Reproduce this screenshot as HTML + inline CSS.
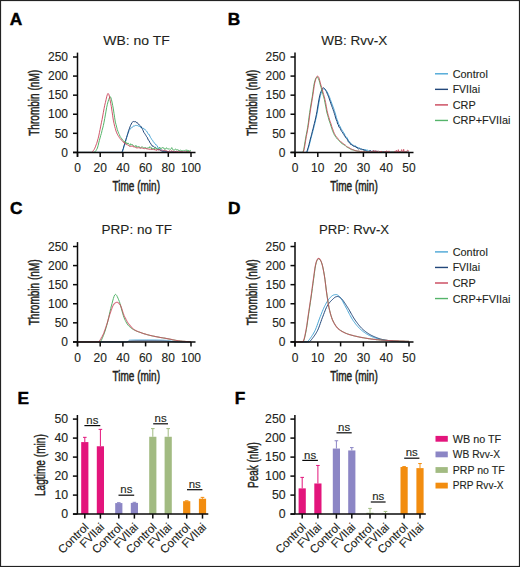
<!DOCTYPE html>
<html><head><meta charset="utf-8"><style>
html,body{margin:0;padding:0;background:#fff;width:520px;height:567px;overflow:hidden}
svg{display:block}
</style></head><body>
<svg width="520" height="567" viewBox="0 0 520 567" font-family='"Liberation Sans", sans-serif'>
<rect x="0" y="0" width="520" height="567" fill="#fff"/>
<text x="9.70" y="24.50" font-size="17.3" text-anchor="start" font-weight="bold" fill="#000" stroke="#000" stroke-width="0.45">A</text>
<text x="136.50" y="44.80" font-size="13.5" text-anchor="middle" font-weight="normal" fill="#231f20" stroke="#231f20" stroke-width="0.12" textLength="66.5" lengthAdjust="spacingAndGlyphs" >WB: no TF</text>
<path d="M77.50,152.40 L78.16,152.40 L78.83,152.40 L79.49,152.40 L80.15,152.40 L80.82,152.40 L81.48,152.40 L82.15,152.40 L82.81,152.40 L83.47,152.40 L84.14,152.40 L84.80,152.40 L85.46,152.40 L86.13,152.40 L86.79,152.40 L87.46,152.40 L88.12,152.40 L88.78,152.40 L89.45,152.40 L90.11,152.40 L90.77,152.40 L91.44,152.40 L92.10,152.40 L92.77,152.40 L93.43,152.40 L94.09,152.40 L94.76,152.40 L95.42,152.40 L96.08,152.40 L96.75,152.40 L97.41,152.40 L98.08,152.40 L98.74,152.40 L99.40,152.40 L100.07,152.40 L100.73,152.40 L101.39,152.40 L102.06,152.40 L102.72,152.40 L103.39,152.40 L104.05,152.40 L104.71,152.40 L105.38,152.40 L106.04,152.40 L106.70,152.40 L107.37,152.40 L108.03,152.40 L108.70,152.40 L109.36,152.40 L110.02,152.40 L110.69,152.40 L111.35,152.40 L112.01,152.40 L112.68,152.40 L113.34,152.40 L114.01,152.40 L114.67,152.40 L115.33,152.40 L116.00,152.40 L116.66,152.40 L117.32,152.40 L117.99,152.40 L118.65,152.40 L119.32,152.40 L119.98,152.40 L120.64,152.40 L121.31,152.40 L121.97,152.40 L122.63,151.58 L123.30,149.17 L123.96,146.74 L124.63,144.90 L125.29,142.72 L125.95,139.99 L126.62,137.66 L127.28,134.94 L127.94,133.08 L128.61,131.80 L129.27,130.27 L129.94,129.46 L130.60,128.33 L131.26,127.84 L131.93,127.80 L132.59,127.15 L133.25,126.09 L133.92,125.83 L134.58,125.93 L135.25,125.53 L135.91,125.37 L136.57,125.44 L137.24,125.45 L137.90,125.81 L138.56,126.10 L139.23,126.35 L139.89,126.20 L140.56,127.50 L141.22,127.17 L141.88,127.45 L142.55,128.26 L143.21,128.14 L143.87,128.92 L144.54,129.02 L145.20,129.96 L145.87,130.43 L146.53,131.04 L147.19,132.12 L147.86,133.38 L148.52,134.46 L149.18,134.43 L149.85,136.10 L150.51,137.45 L151.18,138.38 L151.84,139.61 L152.50,140.29 L153.17,141.43 L153.83,142.26 L154.49,143.27 L155.16,143.69 L155.82,144.92 L156.49,145.17 L157.15,145.66 L157.81,147.31 L158.48,148.24 L159.14,147.91 L159.80,147.92 L160.47,149.56 L161.13,150.11 L161.80,149.91 L162.46,150.64 L163.12,150.81 L163.79,151.02 L164.45,150.97 L165.11,151.45 L165.78,151.39 L166.44,151.64 L167.11,151.91 L167.77,151.79 L168.43,152.03 L169.10,151.77 L169.76,152.15 L170.42,152.18 L171.09,151.43 L171.75,151.92 L172.42,151.94 L173.08,151.79 L173.74,152.10 L174.41,152.06 L175.07,151.88 L175.73,151.94 L176.40,152.39 L177.06,151.80 L177.73,152.24 L178.39,152.40 L179.05,152.36 L179.72,152.21 L180.38,151.61 L181.04,152.40 L181.71,152.08 L182.37,152.40 L183.04,152.15 L183.70,151.88 L184.36,152.23 L185.03,152.36 L185.69,152.11 L186.35,151.97 L187.02,151.99 L187.68,151.59 L188.35,152.14 L189.01,152.39 L189.67,152.25 L190.34,152.23 L191.00,152.21" fill="none" stroke="#4aa6d6" stroke-width="1.0" stroke-linejoin="round" opacity="1"/>
<path d="M77.50,152.40 L78.16,152.40 L78.83,152.40 L79.49,152.40 L80.15,152.40 L80.82,152.40 L81.48,152.40 L82.15,152.40 L82.81,152.40 L83.47,152.40 L84.14,152.40 L84.80,152.40 L85.46,152.40 L86.13,152.40 L86.79,152.40 L87.46,152.40 L88.12,152.40 L88.78,152.40 L89.45,152.40 L90.11,152.40 L90.77,152.40 L91.44,152.40 L92.10,152.40 L92.77,152.40 L93.43,152.40 L94.09,152.40 L94.76,152.40 L95.42,152.40 L96.08,152.40 L96.75,152.40 L97.41,152.40 L98.08,152.40 L98.74,152.40 L99.40,152.40 L100.07,152.40 L100.73,152.40 L101.39,152.40 L102.06,152.40 L102.72,152.40 L103.39,152.40 L104.05,152.40 L104.71,152.40 L105.38,152.40 L106.04,152.40 L106.70,152.40 L107.37,152.40 L108.03,152.40 L108.70,152.40 L109.36,152.40 L110.02,152.40 L110.69,152.40 L111.35,152.40 L112.01,152.40 L112.68,152.40 L113.34,152.40 L114.01,152.40 L114.67,152.40 L115.33,152.40 L116.00,152.40 L116.66,152.40 L117.32,152.40 L117.99,152.40 L118.65,152.40 L119.32,152.40 L119.98,152.40 L120.64,152.40 L121.31,152.40 L121.97,152.40 L122.63,150.13 L123.30,148.51 L123.96,145.84 L124.63,143.96 L125.29,141.90 L125.95,139.38 L126.62,137.37 L127.28,135.55 L127.94,133.30 L128.61,130.43 L129.27,128.91 L129.94,126.97 L130.60,125.32 L131.26,124.05 L131.93,122.57 L132.59,122.01 L133.25,121.65 L133.92,121.35 L134.58,121.73 L135.25,121.67 L135.91,121.71 L136.57,122.67 L137.24,122.49 L137.90,123.74 L138.56,124.12 L139.23,125.00 L139.89,125.42 L140.56,126.01 L141.22,126.99 L141.88,128.15 L142.55,129.40 L143.21,130.80 L143.87,132.41 L144.54,133.31 L145.20,134.31 L145.87,135.35 L146.53,136.61 L147.19,137.21 L147.86,138.99 L148.52,140.33 L149.18,140.70 L149.85,142.69 L150.51,143.13 L151.18,144.66 L151.84,145.00 L152.50,146.30 L153.17,145.93 L153.83,146.71 L154.49,147.39 L155.16,147.02 L155.82,147.75 L156.49,148.41 L157.15,149.07 L157.81,149.24 L158.48,149.61 L159.14,149.65 L159.80,149.92 L160.47,150.65 L161.13,150.86 L161.80,151.07 L162.46,151.49 L163.12,151.41 L163.79,151.41 L164.45,151.30 L165.11,151.23 L165.78,151.98 L166.44,151.63 L167.11,151.97 L167.77,151.23 L168.43,151.90 L169.10,151.75 L169.76,152.21 L170.42,152.19 L171.09,151.90 L171.75,152.09 L172.42,151.88 L173.08,152.40 L173.74,151.81 L174.41,152.30 L175.07,151.51 L175.73,152.13 L176.40,151.72 L177.06,152.40 L177.73,151.94 L178.39,152.35 L179.05,152.24 L179.72,152.09 L180.38,152.20 L181.04,152.03 L181.71,151.89 L182.37,151.93 L183.04,152.16 L183.70,152.40 L184.36,152.40 L185.03,152.22 L185.69,152.40 L186.35,151.94 L187.02,152.25 L187.68,152.26 L188.35,151.90 L189.01,151.99 L189.67,152.13 L190.34,152.40 L191.00,152.21" fill="none" stroke="#22477a" stroke-width="1.0" stroke-linejoin="round" opacity="1"/>
<path d="M77.50,152.40 L78.16,152.40 L78.83,152.40 L79.49,152.40 L80.15,152.40 L80.82,152.40 L81.48,152.40 L82.15,152.40 L82.81,152.40 L83.47,152.40 L84.14,152.40 L84.80,152.40 L85.46,152.40 L86.13,152.40 L86.79,152.40 L87.46,152.40 L88.12,152.40 L88.78,152.40 L89.45,152.40 L90.11,152.40 L90.77,152.40 L91.44,152.40 L92.10,152.40 L92.77,152.40 L93.43,152.40 L94.09,152.39 L94.76,151.78 L95.42,151.44 L96.08,150.52 L96.75,149.27 L97.41,148.04 L98.08,145.69 L98.74,142.88 L99.40,140.30 L100.07,137.95 L100.73,135.43 L101.39,133.49 L102.06,130.36 L102.72,128.01 L103.39,125.35 L104.05,122.11 L104.71,118.60 L105.38,114.91 L106.04,111.09 L106.70,107.28 L107.37,104.31 L108.03,101.79 L108.70,99.65 L109.36,97.90 L110.02,96.71 L110.69,97.15 L111.35,99.22 L112.01,102.02 L112.68,105.39 L113.34,108.95 L114.01,113.39 L114.67,117.79 L115.33,122.13 L116.00,124.51 L116.66,127.10 L117.32,129.71 L117.99,131.46 L118.65,133.35 L119.32,134.55 L119.98,136.28 L120.64,137.30 L121.31,138.11 L121.97,138.97 L122.63,140.25 L123.30,140.87 L123.96,140.95 L124.63,142.06 L125.29,141.21 L125.95,143.36 L126.62,142.82 L127.28,144.04 L127.94,142.87 L128.61,144.03 L129.27,144.51 L129.94,145.58 L130.60,143.73 L131.26,144.51 L131.93,144.71 L132.59,144.66 L133.25,145.32 L133.92,146.09 L134.58,146.35 L135.25,146.50 L135.91,145.33 L136.57,147.20 L137.24,146.81 L137.90,146.79 L138.56,146.60 L139.23,146.52 L139.89,147.77 L140.56,148.20 L141.22,147.28 L141.88,146.65 L142.55,147.05 L143.21,147.49 L143.87,147.91 L144.54,147.63 L145.20,148.03 L145.87,147.45 L146.53,148.48 L147.19,147.96 L147.86,148.14 L148.52,147.78 L149.18,148.00 L149.85,146.61 L150.51,147.28 L151.18,147.30 L151.84,149.48 L152.50,148.46 L153.17,148.65 L153.83,147.97 L154.49,149.71 L155.16,147.62 L155.82,147.70 L156.49,149.17 L157.15,149.00 L157.81,148.91 L158.48,148.42 L159.14,148.07 L159.80,147.23 L160.47,148.62 L161.13,148.05 L161.80,148.44 L162.46,147.48 L163.12,148.12 L163.79,147.76 L164.45,149.27 L165.11,148.76 L165.78,149.16 L166.44,147.77 L167.11,148.32 L167.77,148.93 L168.43,149.06 L169.10,148.53 L169.76,149.31 L170.42,149.51 L171.09,148.72 L171.75,147.58 L172.42,149.32 L173.08,149.59 L173.74,150.06 L174.41,150.25 L175.07,149.21 L175.73,149.11 L176.40,149.71 L177.06,149.60 L177.73,149.82 L178.39,149.89 L179.05,150.98 L179.72,150.40 L180.38,150.11 L181.04,150.72 L181.71,150.60 L182.37,150.87 L183.04,150.63 L183.70,149.97 L184.36,150.80 L185.03,150.70 L185.69,150.17 L186.35,150.32 L187.02,149.74 L187.68,152.10 L188.35,150.35 L189.01,151.22 L189.67,150.89 L190.34,150.51 L191.00,150.40" fill="none" stroke="#55b46a" stroke-width="1.0" stroke-linejoin="round" opacity="1"/>
<path d="M77.50,152.40 L78.16,152.40 L78.83,152.40 L79.49,152.40 L80.15,152.40 L80.82,152.40 L81.48,152.40 L82.15,152.40 L82.81,152.40 L83.47,152.40 L84.14,152.40 L84.80,152.40 L85.46,152.40 L86.13,152.40 L86.79,152.40 L87.46,152.40 L88.12,152.40 L88.78,152.40 L89.45,152.40 L90.11,152.40 L90.77,152.40 L91.44,152.40 L92.10,152.27 L92.77,151.62 L93.43,150.42 L94.09,149.64 L94.76,148.22 L95.42,146.84 L96.08,144.91 L96.75,143.29 L97.41,140.97 L98.08,138.60 L98.74,136.06 L99.40,132.72 L100.07,129.54 L100.73,126.09 L101.39,122.79 L102.06,119.64 L102.72,116.01 L103.39,112.27 L104.05,108.59 L104.71,105.28 L105.38,102.59 L106.04,99.69 L106.70,96.84 L107.37,94.55 L108.03,93.42 L108.70,94.08 L109.36,96.13 L110.02,99.69 L110.69,103.23 L111.35,106.66 L112.01,111.19 L112.68,115.84 L113.34,120.14 L114.01,123.36 L114.67,126.37 L115.33,128.58 L116.00,130.99 L116.66,132.80 L117.32,134.18 L117.99,135.42 L118.65,136.45 L119.32,137.52 L119.98,138.40 L120.64,139.15 L121.31,140.03 L121.97,140.46 L122.63,141.34 L123.30,142.33 L123.96,141.81 L124.63,143.15 L125.29,144.05 L125.95,143.50 L126.62,144.67 L127.28,144.53 L127.94,145.44 L128.61,145.49 L129.27,146.21 L129.94,146.50 L130.60,146.38 L131.26,146.25 L131.93,146.12 L132.59,145.72 L133.25,147.06 L133.92,146.50 L134.58,147.19 L135.25,147.16 L135.91,147.74 L136.57,147.87 L137.24,147.75 L137.90,148.02 L138.56,147.73 L139.23,148.08 L139.89,147.52 L140.56,148.00 L141.22,148.10 L141.88,147.86 L142.55,148.17 L143.21,148.45 L143.87,148.56 L144.54,148.66 L145.20,148.33 L145.87,148.51 L146.53,148.74 L147.19,148.67 L147.86,149.21 L148.52,148.92 L149.18,149.65 L149.85,148.77 L150.51,149.27 L151.18,149.30 L151.84,149.22 L152.50,149.50 L153.17,149.64 L153.83,149.21 L154.49,149.64 L155.16,150.06 L155.82,149.66 L156.49,150.47 L157.15,149.38 L157.81,150.08 L158.48,150.08 L159.14,149.40 L159.80,149.51 L160.47,150.28 L161.13,150.18 L161.80,150.10 L162.46,149.97 L163.12,150.66 L163.79,150.63 L164.45,150.32 L165.11,150.71 L165.78,150.60 L166.44,150.69 L167.11,151.34 L167.77,151.29 L168.43,151.95 L169.10,151.18 L169.76,150.67 L170.42,151.55 L171.09,150.79 L171.75,150.91 L172.42,151.31 L173.08,151.33 L173.74,151.33 L174.41,151.69 L175.07,151.52 L175.73,151.48 L176.40,151.28 L177.06,151.25 L177.73,151.81 L178.39,151.30 L179.05,151.88 L179.72,151.70 L180.38,151.54 L181.04,151.70 L181.71,151.76 L182.37,151.65 L183.04,151.96 L183.70,152.02 L184.36,151.89 L185.03,151.51 L185.69,151.90 L186.35,151.23 L187.02,151.84 L187.68,152.40 L188.35,152.10 L189.01,151.40 L189.67,151.98 L190.34,152.15 L191.00,152.32" fill="none" stroke="#c94459" stroke-width="1.0" stroke-linejoin="round" opacity="0.9"/>
<line x1="77.50" y1="52.60" x2="77.50" y2="156.90" stroke="#0a0a0a" stroke-width="1.5"/>
<line x1="73.00" y1="152.40" x2="77.50" y2="152.40" stroke="#0a0a0a" stroke-width="1.5"/>
<text x="68.00" y="156.60" font-size="12" text-anchor="end" font-weight="normal" fill="#231f20" stroke="#231f20" stroke-width="0.12" >0</text>
<line x1="73.00" y1="133.32" x2="77.50" y2="133.32" stroke="#0a0a0a" stroke-width="1.5"/>
<text x="68.00" y="137.52" font-size="12" text-anchor="end" font-weight="normal" fill="#231f20" stroke="#231f20" stroke-width="0.12" >50</text>
<line x1="73.00" y1="114.24" x2="77.50" y2="114.24" stroke="#0a0a0a" stroke-width="1.5"/>
<text x="68.00" y="118.44" font-size="12" text-anchor="end" font-weight="normal" fill="#231f20" stroke="#231f20" stroke-width="0.12" >100</text>
<line x1="73.00" y1="95.16" x2="77.50" y2="95.16" stroke="#0a0a0a" stroke-width="1.5"/>
<text x="68.00" y="99.36" font-size="12" text-anchor="end" font-weight="normal" fill="#231f20" stroke="#231f20" stroke-width="0.12" >150</text>
<line x1="73.00" y1="76.08" x2="77.50" y2="76.08" stroke="#0a0a0a" stroke-width="1.5"/>
<text x="68.00" y="80.28" font-size="12" text-anchor="end" font-weight="normal" fill="#231f20" stroke="#231f20" stroke-width="0.12" >200</text>
<line x1="73.00" y1="57.00" x2="77.50" y2="57.00" stroke="#0a0a0a" stroke-width="1.5"/>
<text x="68.00" y="61.20" font-size="12" text-anchor="end" font-weight="normal" fill="#231f20" stroke="#231f20" stroke-width="0.12" >250</text>
<line x1="73.00" y1="152.40" x2="195.50" y2="152.40" stroke="#0a0a0a" stroke-width="1.5"/>
<line x1="77.50" y1="152.40" x2="77.50" y2="156.90" stroke="#0a0a0a" stroke-width="1.5"/>
<text x="77.50" y="172.10" font-size="12" text-anchor="middle" font-weight="normal" fill="#231f20" stroke="#231f20" stroke-width="0.12" >0</text>
<line x1="100.20" y1="152.40" x2="100.20" y2="156.90" stroke="#0a0a0a" stroke-width="1.5"/>
<text x="100.20" y="172.10" font-size="12" text-anchor="middle" font-weight="normal" fill="#231f20" stroke="#231f20" stroke-width="0.12" >20</text>
<line x1="122.90" y1="152.40" x2="122.90" y2="156.90" stroke="#0a0a0a" stroke-width="1.5"/>
<text x="122.90" y="172.10" font-size="12" text-anchor="middle" font-weight="normal" fill="#231f20" stroke="#231f20" stroke-width="0.12" >40</text>
<line x1="145.60" y1="152.40" x2="145.60" y2="156.90" stroke="#0a0a0a" stroke-width="1.5"/>
<text x="145.60" y="172.10" font-size="12" text-anchor="middle" font-weight="normal" fill="#231f20" stroke="#231f20" stroke-width="0.12" >60</text>
<line x1="168.30" y1="152.40" x2="168.30" y2="156.90" stroke="#0a0a0a" stroke-width="1.5"/>
<text x="168.30" y="172.10" font-size="12" text-anchor="middle" font-weight="normal" fill="#231f20" stroke="#231f20" stroke-width="0.12" >80</text>
<line x1="191.00" y1="152.40" x2="191.00" y2="156.90" stroke="#0a0a0a" stroke-width="1.5"/>
<text x="191.00" y="172.10" font-size="12" text-anchor="middle" font-weight="normal" fill="#231f20" stroke="#231f20" stroke-width="0.12" >100</text>
<text x="136.25" y="191.00" font-size="14" text-anchor="middle" font-weight="normal" fill="#231f20" stroke="#231f20" stroke-width="0.5" textLength="47.5" lengthAdjust="spacingAndGlyphs" >Time (min)</text>
<text x="39.20" y="102.80" font-size="14" text-anchor="middle" font-weight="normal" fill="#231f20" stroke="#231f20" stroke-width="0.5" textLength="66" lengthAdjust="spacingAndGlyphs" transform="rotate(-90 39.20 102.80)">Thrombin (nM)</text>
<text x="227.70" y="24.50" font-size="17.3" text-anchor="start" font-weight="bold" fill="#000" stroke="#000" stroke-width="0.45">B</text>
<text x="354.20" y="44.80" font-size="13.5" text-anchor="middle" font-weight="normal" fill="#231f20" stroke="#231f20" stroke-width="0.12" textLength="66.0" lengthAdjust="spacingAndGlyphs" >WB: Rvv-X</text>
<path d="M295.00,152.40 L295.67,152.40 L296.33,152.40 L297.00,152.40 L297.67,152.40 L298.33,152.40 L299.00,152.40 L299.67,152.40 L300.33,152.40 L301.00,152.40 L301.67,152.40 L302.33,152.40 L303.00,152.40 L303.67,152.40 L304.33,152.40 L305.00,152.40 L305.67,152.40 L306.33,152.40 L307.00,152.32 L307.67,150.64 L308.33,148.63 L309.00,146.13 L309.67,143.61 L310.33,140.97 L311.00,138.19 L311.67,135.61 L312.33,133.37 L313.00,130.67 L313.67,128.17 L314.33,125.41 L315.00,122.81 L315.67,119.87 L316.33,116.94 L317.00,113.81 L317.67,110.21 L318.33,106.16 L319.00,102.32 L319.67,98.80 L320.33,95.81 L321.00,93.67 L321.67,91.45 L322.33,90.16 L323.00,89.57 L323.67,88.71 L324.33,88.88 L325.00,89.18 L325.67,89.83 L326.33,90.82 L327.00,91.68 L327.67,92.99 L328.33,94.28 L329.00,96.02 L329.67,97.49 L330.33,99.50 L331.00,101.24 L331.67,103.11 L332.33,104.70 L333.00,106.68 L333.67,108.39 L334.33,110.56 L335.00,112.54 L335.67,114.74 L336.33,117.43 L337.00,119.45 L337.67,120.82 L338.33,123.28 L339.00,124.48 L339.67,125.91 L340.33,126.86 L341.00,128.49 L341.67,129.55 L342.33,130.52 L343.00,131.70 L343.67,133.22 L344.33,133.46 L345.00,135.48 L345.67,136.44 L346.33,137.45 L347.00,137.41 L347.67,139.05 L348.33,140.36 L349.00,141.44 L349.67,141.68 L350.33,143.22 L351.00,144.07 L351.67,143.81 L352.33,145.13 L353.00,145.18 L353.67,145.43 L354.33,146.00 L355.00,146.16 L355.67,145.84 L356.33,146.99 L357.00,147.62 L357.67,148.17 L358.33,147.71 L359.00,148.05 L359.67,148.04 L360.33,148.63 L361.00,148.88 L361.67,149.23 L362.33,149.37 L363.00,149.27 L363.67,149.73 L364.33,149.70 L365.00,149.05 L365.67,149.87 L366.33,150.98 L367.00,149.62 L367.67,150.41 L368.33,151.14 L369.00,150.43 L369.67,150.96 L370.33,151.35 L371.00,151.45 L371.67,151.69 L372.33,151.29 L373.00,150.90 L373.67,151.61 L374.33,151.33 L375.00,150.73 L375.67,152.20 L376.33,151.58 L377.00,151.89 L377.67,152.28 L378.33,152.30 L379.00,151.87 L379.67,151.69 L380.33,152.15 L381.00,151.89 L381.67,151.60 L382.33,151.81 L383.00,151.56 L383.67,151.76 L384.33,151.76 L385.00,151.16 L385.67,151.72 L386.33,152.02 L387.00,152.03 L387.67,152.04 L388.33,152.05 L389.00,152.06 L389.67,152.07 L390.33,152.08 L391.00,152.09 L391.67,152.10 L392.33,152.11 L393.00,152.12 L393.67,152.12 L394.33,152.13 L395.00,152.14 L395.67,152.14 L396.33,152.15 L397.00,152.16 L397.67,152.16 L398.33,152.17 L399.00,152.17 L399.67,152.18 L400.33,152.18 L401.00,152.19 L401.67,152.19 L402.33,152.19 L403.00,152.20 L403.67,152.20 L404.33,152.20 L405.00,152.20 L405.67,152.21 L406.33,152.21 L407.00,152.21 L407.67,152.21 L408.33,152.21 L409.00,152.21" fill="none" stroke="#4aa6d6" stroke-width="1.0" stroke-linejoin="round" opacity="1"/>
<path d="M295.00,152.40 L295.67,152.40 L296.33,152.40 L297.00,152.40 L297.67,152.40 L298.33,152.40 L299.00,152.40 L299.67,152.40 L300.33,152.40 L301.00,152.40 L301.67,152.40 L302.33,152.40 L303.00,152.40 L303.67,152.40 L304.33,152.40 L305.00,152.40 L305.67,152.40 L306.33,152.40 L307.00,151.26 L307.67,149.06 L308.33,147.08 L309.00,144.53 L309.67,141.75 L310.33,139.04 L311.00,136.68 L311.67,134.18 L312.33,131.41 L313.00,128.98 L313.67,126.11 L314.33,123.49 L315.00,120.75 L315.67,117.88 L316.33,114.72 L317.00,111.21 L317.67,106.98 L318.33,102.99 L319.00,99.09 L319.67,95.95 L320.33,93.42 L321.00,91.47 L321.67,89.98 L322.33,88.45 L323.00,87.83 L323.67,87.82 L324.33,88.40 L325.00,89.11 L325.67,90.31 L326.33,91.48 L327.00,93.00 L327.67,94.71 L328.33,96.13 L329.00,97.96 L329.67,100.03 L330.33,101.88 L331.00,103.91 L331.67,105.78 L332.33,107.53 L333.00,109.33 L333.67,111.42 L334.33,113.39 L335.00,115.57 L335.67,117.99 L336.33,119.93 L337.00,121.43 L337.67,124.23 L338.33,124.73 L339.00,127.23 L339.67,127.38 L340.33,128.66 L341.00,130.15 L341.67,131.54 L342.33,132.17 L343.00,133.40 L343.67,134.20 L344.33,135.67 L345.00,136.00 L345.67,137.70 L346.33,138.37 L347.00,139.43 L347.67,139.69 L348.33,141.94 L349.00,142.37 L349.67,142.46 L350.33,144.02 L351.00,144.85 L351.67,144.65 L352.33,145.37 L353.00,145.27 L353.67,146.46 L354.33,146.30 L355.00,146.42 L355.67,146.56 L356.33,147.84 L357.00,146.98 L357.67,148.33 L358.33,148.89 L359.00,148.90 L359.67,148.65 L360.33,149.12 L361.00,149.00 L361.67,149.20 L362.33,149.49 L363.00,149.94 L363.67,149.18 L364.33,151.19 L365.00,151.12 L365.67,150.71 L366.33,151.19 L367.00,151.92 L367.67,151.24 L368.33,151.34 L369.00,152.22 L369.67,150.79 L370.33,150.67 L371.00,150.77 L371.67,151.64 L372.33,151.41 L373.00,152.06 L373.67,151.51 L374.33,151.97 L375.00,151.53 L375.67,151.93 L376.33,151.34 L377.00,151.48 L377.67,151.32 L378.33,152.40 L379.00,152.40 L379.67,151.76 L380.33,152.22 L381.00,151.79 L381.67,151.85 L382.33,151.91 L383.00,151.58 L383.67,151.76 L384.33,151.81 L385.00,152.40 L385.67,151.26 L386.33,152.06 L387.00,152.06 L387.67,152.07 L388.33,152.08 L389.00,152.09 L389.67,152.10 L390.33,152.11 L391.00,152.11 L391.67,152.12 L392.33,152.13 L393.00,152.13 L393.67,152.14 L394.33,152.15 L395.00,152.15 L395.67,152.16 L396.33,152.16 L397.00,152.17 L397.67,152.17 L398.33,152.18 L399.00,152.18 L399.67,152.18 L400.33,152.19 L401.00,152.19 L401.67,152.19 L402.33,152.20 L403.00,152.20 L403.67,152.20 L404.33,152.20 L405.00,152.20 L405.67,152.21 L406.33,152.21 L407.00,152.21 L407.67,152.21 L408.33,152.21 L409.00,152.21" fill="none" stroke="#22477a" stroke-width="1.0" stroke-linejoin="round" opacity="1"/>
<path d="M295.00,152.40 L295.67,152.40 L296.33,152.40 L297.00,152.40 L297.67,152.40 L298.33,152.40 L299.00,152.40 L299.67,152.40 L300.33,152.40 L301.00,152.40 L301.67,152.40 L302.33,152.40 L303.00,152.03 L303.67,149.71 L304.33,146.10 L305.00,141.79 L305.67,138.05 L306.33,134.28 L307.00,131.07 L307.67,127.22 L308.33,122.87 L309.00,117.25 L309.67,112.71 L310.33,108.13 L311.00,104.06 L311.67,100.08 L312.33,96.34 L313.00,91.34 L313.67,86.59 L314.33,83.02 L315.00,80.49 L315.67,78.57 L316.33,77.60 L317.00,77.01 L317.67,77.07 L318.33,78.61 L319.00,80.06 L319.67,82.21 L320.33,85.01 L321.00,87.24 L321.67,89.52 L322.33,91.92 L323.00,94.63 L323.67,96.88 L324.33,99.30 L325.00,102.91 L325.67,106.08 L326.33,109.87 L327.00,113.06 L327.67,115.09 L328.33,117.62 L329.00,120.12 L329.67,121.93 L330.33,123.91 L331.00,126.18 L331.67,128.11 L332.33,130.24 L333.00,131.90 L333.67,133.28 L334.33,134.90 L335.00,135.81 L335.67,136.92 L336.33,137.71 L337.00,138.78 L337.67,139.43 L338.33,140.07 L339.00,140.55 L339.67,141.16 L340.33,142.25 L341.00,142.72 L341.67,143.00 L342.33,144.02 L343.00,144.23 L343.67,144.66 L344.33,144.88 L345.00,145.48 L345.67,146.16 L346.33,146.64 L347.00,147.09 L347.67,147.19 L348.33,147.98 L349.00,148.35 L349.67,148.57 L350.33,148.97 L351.00,149.29 L351.67,149.76 L352.33,149.82 L353.00,150.15 L353.67,150.07 L354.33,150.36 L355.00,150.66 L355.67,150.67 L356.33,151.00 L357.00,150.87 L357.67,151.19 L358.33,151.19 L359.00,151.64 L359.67,151.42 L360.33,151.88 L361.00,152.01 L361.67,151.74 L362.33,151.91 L363.00,151.76 L363.67,151.41 L364.33,152.04 L365.00,152.04 L365.67,151.91 L366.33,151.89 L367.00,152.03 L367.67,152.05 L368.33,151.89 L369.00,151.93 L369.67,152.23 L370.33,152.05 L371.00,152.03 L371.67,152.25 L372.33,152.00 L373.00,152.22 L373.67,151.87 L374.33,152.02 L375.00,152.04 L375.67,152.17 L376.33,152.09 L377.00,152.40 L377.67,152.28 L378.33,152.00 L379.00,152.40 L379.67,151.91 L380.33,152.40 L381.00,151.93 L381.67,152.24 L382.33,151.93 L383.00,152.06 L383.67,152.38 L384.33,151.85 L385.00,151.81 L385.67,152.10 L386.33,152.15 L387.00,152.13 L387.67,152.29 L388.33,151.89 L389.00,152.21 L389.67,152.12 L390.33,152.27 L391.00,152.24 L391.67,152.36 L392.33,151.88 L393.00,152.16 L393.67,151.95 L394.33,152.13 L395.00,152.27 L395.67,152.20 L396.33,152.25 L397.00,152.14 L397.67,152.22 L398.33,152.21 L399.00,152.40 L399.67,152.31 L400.33,151.85 L401.00,152.29 L401.67,152.37 L402.33,152.11 L403.00,151.91 L403.67,152.40 L404.33,152.22 L405.00,152.31 L405.67,152.40 L406.33,152.05 L407.00,152.20 L407.67,152.19 L408.33,152.35 L409.00,152.21" fill="none" stroke="#55b46a" stroke-width="1.0" stroke-linejoin="round" opacity="1"/>
<path d="M295.00,152.40 L295.67,152.40 L296.33,152.40 L297.00,152.40 L297.67,152.40 L298.33,152.40 L299.00,152.40 L299.67,152.40 L300.33,152.40 L301.00,152.40 L301.67,152.40 L302.33,152.40 L303.00,152.40 L303.67,151.12 L304.33,148.67 L305.00,144.72 L305.67,140.58 L306.33,136.40 L307.00,133.22 L307.67,129.62 L308.33,125.63 L309.00,120.82 L309.67,115.86 L310.33,111.03 L311.00,106.90 L311.67,102.85 L312.33,98.77 L313.00,94.45 L313.67,90.02 L314.33,85.11 L315.00,82.08 L315.67,79.55 L316.33,77.63 L317.00,76.25 L317.67,76.17 L318.33,76.60 L319.00,77.87 L319.67,80.15 L320.33,82.91 L321.00,85.23 L321.67,87.13 L322.33,89.71 L323.00,92.18 L323.67,94.57 L324.33,96.86 L325.00,99.59 L325.67,102.70 L326.33,106.41 L327.00,110.24 L327.67,112.97 L328.33,115.59 L329.00,117.66 L329.67,119.97 L330.33,122.05 L331.00,123.66 L331.67,126.12 L332.33,128.13 L333.00,129.80 L333.67,131.82 L334.33,133.41 L335.00,134.57 L335.67,135.78 L336.33,136.48 L337.00,137.60 L337.67,138.11 L338.33,139.21 L339.00,139.94 L339.67,140.65 L340.33,141.16 L341.00,141.84 L341.67,142.25 L342.33,143.09 L343.00,143.49 L343.67,143.75 L344.33,144.59 L345.00,144.97 L345.67,145.31 L346.33,145.96 L347.00,146.63 L347.67,147.32 L348.33,147.08 L349.00,147.80 L349.67,148.05 L350.33,148.66 L351.00,148.62 L351.67,149.12 L352.33,149.47 L353.00,149.88 L353.67,149.93 L354.33,150.27 L355.00,150.42 L355.67,150.80 L356.33,150.77 L357.00,150.81 L357.67,151.15 L358.33,151.06 L359.00,151.08 L359.67,151.32 L360.33,151.45 L361.00,151.53 L361.67,151.36 L362.33,151.81 L363.00,151.68 L363.67,151.70 L364.33,151.76 L365.00,151.82 L365.67,151.86 L366.33,151.90 L367.00,151.93 L367.67,151.94 L368.33,151.94 L369.00,151.94 L369.67,151.94 L370.33,152.40 L371.00,151.17 L371.67,152.40 L372.33,152.40 L373.00,151.01 L373.67,150.10 L374.33,152.00 L375.00,152.23 L375.67,150.54 L376.33,152.40 L377.00,151.59 L377.67,151.63 L378.33,150.79 L379.00,151.55 L379.67,152.15 L380.33,151.20 L381.00,152.40 L381.67,150.98 L382.33,152.40 L383.00,152.40 L383.67,152.23 L384.33,151.78 L385.00,151.07 L385.67,152.06 L386.33,151.04 L387.00,150.79 L387.67,151.94 L388.33,152.40 L389.00,150.84 L389.67,151.53 L390.33,152.40 L391.00,152.40 L391.67,151.67 L392.33,152.40 L393.00,152.40 L393.67,152.40 L394.33,151.40 L395.00,151.57 L395.67,151.64 L396.33,150.28 L397.00,152.20 L397.67,152.14 L398.33,149.67 L399.00,152.40 L399.67,151.05 L400.33,152.40 L401.00,151.58 L401.67,149.57 L402.33,151.54 L403.00,152.40 L403.67,149.28 L404.33,152.40 L405.00,152.05 L405.67,151.50 L406.33,152.40 L407.00,150.64 L407.67,150.10 L408.33,151.02 L409.00,151.47" fill="none" stroke="#c94459" stroke-width="1.0" stroke-linejoin="round" opacity="0.8"/>
<line x1="295.00" y1="52.60" x2="295.00" y2="156.90" stroke="#0a0a0a" stroke-width="1.5"/>
<line x1="290.50" y1="152.40" x2="295.00" y2="152.40" stroke="#0a0a0a" stroke-width="1.5"/>
<text x="285.50" y="156.60" font-size="12" text-anchor="end" font-weight="normal" fill="#231f20" stroke="#231f20" stroke-width="0.12" >0</text>
<line x1="290.50" y1="133.32" x2="295.00" y2="133.32" stroke="#0a0a0a" stroke-width="1.5"/>
<text x="285.50" y="137.52" font-size="12" text-anchor="end" font-weight="normal" fill="#231f20" stroke="#231f20" stroke-width="0.12" >50</text>
<line x1="290.50" y1="114.24" x2="295.00" y2="114.24" stroke="#0a0a0a" stroke-width="1.5"/>
<text x="285.50" y="118.44" font-size="12" text-anchor="end" font-weight="normal" fill="#231f20" stroke="#231f20" stroke-width="0.12" >100</text>
<line x1="290.50" y1="95.16" x2="295.00" y2="95.16" stroke="#0a0a0a" stroke-width="1.5"/>
<text x="285.50" y="99.36" font-size="12" text-anchor="end" font-weight="normal" fill="#231f20" stroke="#231f20" stroke-width="0.12" >150</text>
<line x1="290.50" y1="76.08" x2="295.00" y2="76.08" stroke="#0a0a0a" stroke-width="1.5"/>
<text x="285.50" y="80.28" font-size="12" text-anchor="end" font-weight="normal" fill="#231f20" stroke="#231f20" stroke-width="0.12" >200</text>
<line x1="290.50" y1="57.00" x2="295.00" y2="57.00" stroke="#0a0a0a" stroke-width="1.5"/>
<text x="285.50" y="61.20" font-size="12" text-anchor="end" font-weight="normal" fill="#231f20" stroke="#231f20" stroke-width="0.12" >250</text>
<line x1="290.50" y1="152.40" x2="413.50" y2="152.40" stroke="#0a0a0a" stroke-width="1.5"/>
<line x1="295.00" y1="152.40" x2="295.00" y2="156.90" stroke="#0a0a0a" stroke-width="1.5"/>
<text x="295.00" y="172.10" font-size="12" text-anchor="middle" font-weight="normal" fill="#231f20" stroke="#231f20" stroke-width="0.12" >0</text>
<line x1="317.80" y1="152.40" x2="317.80" y2="156.90" stroke="#0a0a0a" stroke-width="1.5"/>
<text x="317.80" y="172.10" font-size="12" text-anchor="middle" font-weight="normal" fill="#231f20" stroke="#231f20" stroke-width="0.12" >10</text>
<line x1="340.60" y1="152.40" x2="340.60" y2="156.90" stroke="#0a0a0a" stroke-width="1.5"/>
<text x="340.60" y="172.10" font-size="12" text-anchor="middle" font-weight="normal" fill="#231f20" stroke="#231f20" stroke-width="0.12" >20</text>
<line x1="363.40" y1="152.40" x2="363.40" y2="156.90" stroke="#0a0a0a" stroke-width="1.5"/>
<text x="363.40" y="172.10" font-size="12" text-anchor="middle" font-weight="normal" fill="#231f20" stroke="#231f20" stroke-width="0.12" >30</text>
<line x1="386.20" y1="152.40" x2="386.20" y2="156.90" stroke="#0a0a0a" stroke-width="1.5"/>
<text x="386.20" y="172.10" font-size="12" text-anchor="middle" font-weight="normal" fill="#231f20" stroke="#231f20" stroke-width="0.12" >40</text>
<line x1="409.00" y1="152.40" x2="409.00" y2="156.90" stroke="#0a0a0a" stroke-width="1.5"/>
<text x="409.00" y="172.10" font-size="12" text-anchor="middle" font-weight="normal" fill="#231f20" stroke="#231f20" stroke-width="0.12" >50</text>
<text x="354.00" y="191.00" font-size="14" text-anchor="middle" font-weight="normal" fill="#231f20" stroke="#231f20" stroke-width="0.5" textLength="47.5" lengthAdjust="spacingAndGlyphs" >Time (min)</text>
<text x="256.70" y="102.80" font-size="14" text-anchor="middle" font-weight="normal" fill="#231f20" stroke="#231f20" stroke-width="0.5" textLength="66" lengthAdjust="spacingAndGlyphs" transform="rotate(-90 256.70 102.80)">Thrombin (nM)</text>
<line x1="435.00" y1="73.80" x2="448.00" y2="73.80" stroke="#4aa6d6" stroke-width="1.4"/>
<text x="452.70" y="77.80" font-size="10.9" text-anchor="start" font-weight="normal" fill="#231f20" stroke="#231f20" stroke-width="0.12" >Control</text>
<line x1="435.00" y1="89.35" x2="448.00" y2="89.35" stroke="#22477a" stroke-width="1.4"/>
<text x="452.70" y="93.35" font-size="10.9" text-anchor="start" font-weight="normal" fill="#231f20" stroke="#231f20" stroke-width="0.12" textLength="27.3" lengthAdjust="spacingAndGlyphs" >FVIIai</text>
<line x1="435.00" y1="104.90" x2="448.00" y2="104.90" stroke="#c94459" stroke-width="1.4"/>
<text x="452.70" y="108.90" font-size="10.9" text-anchor="start" font-weight="normal" fill="#231f20" stroke="#231f20" stroke-width="0.12" >CRP</text>
<line x1="435.00" y1="120.45" x2="448.00" y2="120.45" stroke="#55b46a" stroke-width="1.4"/>
<text x="452.70" y="124.45" font-size="10.9" text-anchor="start" font-weight="normal" fill="#231f20" stroke="#231f20" stroke-width="0.12" >CRP+FVIIai</text>
<text x="10.00" y="214.00" font-size="17.3" text-anchor="start" font-weight="bold" fill="#000" stroke="#000" stroke-width="0.45">C</text>
<text x="136.80" y="234.30" font-size="13.5" text-anchor="middle" font-weight="normal" fill="#231f20" stroke="#231f20" stroke-width="0.12" textLength="70.5" lengthAdjust="spacingAndGlyphs" >PRP: no TF</text>
<path d="M77.50,341.90 L78.16,341.90 L78.83,341.90 L79.49,341.90 L80.15,341.90 L80.82,341.90 L81.48,341.90 L82.15,341.90 L82.81,341.90 L83.47,341.90 L84.14,341.90 L84.80,341.90 L85.46,341.90 L86.13,341.90 L86.79,341.90 L87.46,341.90 L88.12,341.90 L88.78,341.90 L89.45,341.90 L90.11,341.90 L90.77,341.90 L91.44,341.90 L92.10,341.90 L92.77,341.90 L93.43,341.90 L94.09,341.90 L94.76,341.90 L95.42,341.90 L96.08,341.90 L96.75,341.90 L97.41,341.90 L98.08,341.90 L98.74,341.90 L99.40,341.90 L100.07,341.90 L100.73,341.90 L101.39,341.90 L102.06,341.90 L102.72,341.90 L103.39,341.90 L104.05,341.90 L104.71,341.90 L105.38,341.90 L106.04,341.90 L106.70,341.90 L107.37,341.90 L108.03,341.90 L108.70,341.90 L109.36,341.90 L110.02,341.90 L110.69,341.90 L111.35,341.90 L112.01,341.90 L112.68,341.90 L113.34,341.90 L114.01,341.90 L114.67,341.90 L115.33,341.90 L116.00,341.90 L116.66,341.90 L117.32,341.90 L117.99,341.90 L118.65,341.90 L119.32,341.90 L119.98,341.90 L120.64,341.90 L121.31,341.90 L121.97,341.90 L122.63,341.90 L123.30,341.90 L123.96,341.90 L124.63,341.90 L125.29,341.90 L125.95,341.90 L126.62,341.90 L127.28,341.84 L127.94,341.38 L128.61,340.71 L129.27,340.15 L129.94,339.97 L130.60,339.92 L131.26,339.87 L131.93,339.83 L132.59,339.79 L133.25,339.76 L133.92,339.73 L134.58,339.70 L135.25,339.68 L135.91,339.66 L136.57,339.64 L137.24,339.63 L137.90,339.62 L138.56,339.62 L139.23,339.61 L139.89,339.61 L140.56,339.61 L141.22,339.61 L141.88,339.61 L142.55,339.61 L143.21,339.61 L143.87,339.61 L144.54,339.61 L145.20,339.61 L145.87,339.61 L146.53,339.61 L147.19,339.61 L147.86,339.61 L148.52,339.61 L149.18,339.61 L149.85,339.61 L150.51,339.61 L151.18,339.61 L151.84,339.61 L152.50,339.62 L153.17,339.63 L153.83,339.64 L154.49,339.65 L155.16,339.67 L155.82,339.69 L156.49,339.71 L157.15,339.74 L157.81,339.76 L158.48,339.79 L159.14,339.82 L159.80,339.85 L160.47,339.88 L161.13,339.92 L161.80,339.95 L162.46,339.98 L163.12,340.02 L163.79,340.06 L164.45,340.11 L165.11,340.16 L165.78,340.22 L166.44,340.28 L167.11,340.35 L167.77,340.42 L168.43,340.50 L169.10,340.57 L169.76,340.65 L170.42,340.74 L171.09,340.83 L171.75,340.96 L172.42,341.10 L173.08,341.25 L173.74,341.40 L174.41,341.53 L175.07,341.63 L175.73,341.70 L176.40,341.72 L177.06,341.74 L177.73,341.75 L178.39,341.77 L179.05,341.78 L179.72,341.80 L180.38,341.81 L181.04,341.82 L181.71,341.83 L182.37,341.84 L183.04,341.85 L183.70,341.86 L184.36,341.87 L185.03,341.87 L185.69,341.88 L186.35,341.88 L187.02,341.89 L187.68,341.89 L188.35,341.89 L189.01,341.90 L189.67,341.90 L190.34,341.90 L191.00,341.90" fill="none" stroke="#4aa6d6" stroke-width="1.0" stroke-linejoin="round" opacity="0.6"/>
<path d="M77.50,341.90 L78.16,341.90 L78.83,341.90 L79.49,341.90 L80.15,341.90 L80.82,341.90 L81.48,341.90 L82.15,341.90 L82.81,341.90 L83.47,341.90 L84.14,341.90 L84.80,341.90 L85.46,341.90 L86.13,341.90 L86.79,341.90 L87.46,341.90 L88.12,341.90 L88.78,341.90 L89.45,341.90 L90.11,341.90 L90.77,341.90 L91.44,341.90 L92.10,341.90 L92.77,341.90 L93.43,341.90 L94.09,341.90 L94.76,341.90 L95.42,341.90 L96.08,341.90 L96.75,341.90 L97.41,341.90 L98.08,341.90 L98.74,341.90 L99.40,341.90 L100.07,341.90 L100.73,341.90 L101.39,341.90 L102.06,341.90 L102.72,341.90 L103.39,341.90 L104.05,341.90 L104.71,341.90 L105.38,341.90 L106.04,341.90 L106.70,341.90 L107.37,341.90 L108.03,341.90 L108.70,341.90 L109.36,341.90 L110.02,341.90 L110.69,341.90 L111.35,341.90 L112.01,341.90 L112.68,341.90 L113.34,341.90 L114.01,341.90 L114.67,341.90 L115.33,341.90 L116.00,341.90 L116.66,341.90 L117.32,341.90 L117.99,341.90 L118.65,341.90 L119.32,341.90 L119.98,341.90 L120.64,341.90 L121.31,341.90 L121.97,341.90 L122.63,341.90 L123.30,341.90 L123.96,341.90 L124.63,341.90 L125.29,341.90 L125.95,341.90 L126.62,341.88 L127.28,341.76 L127.94,341.57 L128.61,341.36 L129.27,341.20 L129.94,341.12 L130.60,341.07 L131.26,341.03 L131.93,340.99 L132.59,340.95 L133.25,340.92 L133.92,340.89 L134.58,340.86 L135.25,340.84 L135.91,340.82 L136.57,340.80 L137.24,340.78 L137.90,340.77 L138.56,340.76 L139.23,340.76 L139.89,340.76 L140.56,340.76 L141.22,340.76 L141.88,340.76 L142.55,340.76 L143.21,340.76 L143.87,340.76 L144.54,340.76 L145.20,340.76 L145.87,340.76 L146.53,340.76 L147.19,340.76 L147.86,340.76 L148.52,340.76 L149.18,340.76 L149.85,340.76 L150.51,340.76 L151.18,340.76 L151.84,340.76 L152.50,340.76 L153.17,340.76 L153.83,340.77 L154.49,340.77 L155.16,340.78 L155.82,340.79 L156.49,340.80 L157.15,340.82 L157.81,340.83 L158.48,340.84 L159.14,340.86 L159.80,340.87 L160.47,340.89 L161.13,340.91 L161.80,340.92 L162.46,340.94 L163.12,340.96 L163.79,340.99 L164.45,341.02 L165.11,341.06 L165.78,341.10 L166.44,341.15 L167.11,341.20 L167.77,341.25 L168.43,341.30 L169.10,341.34 L169.76,341.39 L170.42,341.43 L171.09,341.48 L171.75,341.52 L172.42,341.57 L173.08,341.62 L173.74,341.67 L174.41,341.71 L175.07,341.75 L175.73,341.77 L176.40,341.79 L177.06,341.80 L177.73,341.81 L178.39,341.82 L179.05,341.82 L179.72,341.83 L180.38,341.84 L181.04,341.85 L181.71,341.85 L182.37,341.86 L183.04,341.87 L183.70,341.87 L184.36,341.88 L185.03,341.88 L185.69,341.89 L186.35,341.89 L187.02,341.89 L187.68,341.89 L188.35,341.90 L189.01,341.90 L189.67,341.90 L190.34,341.90 L191.00,341.90" fill="none" stroke="#22477a" stroke-width="1.0" stroke-linejoin="round" opacity="1"/>
<path d="M77.50,341.90 L78.16,341.90 L78.83,341.90 L79.49,341.90 L80.15,341.90 L80.82,341.90 L81.48,341.90 L82.15,341.90 L82.81,341.90 L83.47,341.90 L84.14,341.90 L84.80,341.90 L85.46,341.90 L86.13,341.90 L86.79,341.90 L87.46,341.90 L88.12,341.90 L88.78,341.90 L89.45,341.90 L90.11,341.90 L90.77,341.90 L91.44,341.90 L92.10,341.90 L92.77,341.90 L93.43,341.90 L94.09,341.90 L94.76,341.90 L95.42,341.90 L96.08,341.90 L96.75,341.90 L97.41,341.90 L98.08,341.90 L98.74,341.90 L99.40,341.90 L100.07,341.77 L100.73,341.26 L101.39,340.23 L102.06,338.84 L102.72,337.23 L103.39,335.57 L104.05,333.91 L104.71,332.05 L105.38,330.01 L106.04,327.82 L106.70,325.52 L107.37,323.14 L108.03,320.50 L108.70,317.56 L109.36,314.47 L110.02,311.40 L110.69,308.50 L111.35,305.94 L112.01,303.56 L112.68,301.03 L113.34,298.60 L114.01,296.52 L114.67,295.03 L115.33,294.40 L116.00,294.65 L116.66,295.46 L117.32,296.69 L117.99,298.18 L118.65,299.77 L119.32,301.38 L119.98,303.40 L120.64,305.78 L121.31,308.32 L121.97,310.84 L122.63,313.15 L123.30,315.40 L123.96,317.47 L124.63,319.07 L125.29,320.50 L125.95,321.81 L126.62,323.01 L127.28,324.07 L127.94,325.00 L128.61,325.79 L129.27,326.46 L129.94,327.08 L130.60,327.64 L131.26,328.16 L131.93,328.63 L132.59,329.07 L133.25,329.47 L133.92,329.84 L134.58,330.18 L135.25,330.50 L135.91,330.81 L136.57,331.09 L137.24,331.35 L137.90,331.61 L138.56,331.85 L139.23,332.08 L139.89,332.31 L140.56,332.53 L141.22,332.76 L141.88,332.98 L142.55,333.21 L143.21,333.43 L143.87,333.64 L144.54,333.86 L145.20,334.07 L145.87,334.27 L146.53,334.47 L147.19,334.66 L147.86,334.84 L148.52,335.01 L149.18,335.18 L149.85,335.34 L150.51,335.50 L151.18,335.65 L151.84,335.79 L152.50,335.94 L153.17,336.08 L153.83,336.21 L154.49,336.35 L155.16,336.48 L155.82,336.61 L156.49,336.73 L157.15,336.86 L157.81,336.98 L158.48,337.11 L159.14,337.23 L159.80,337.36 L160.47,337.47 L161.13,337.59 L161.80,337.70 L162.46,337.81 L163.12,337.92 L163.79,338.03 L164.45,338.14 L165.11,338.25 L165.78,338.37 L166.44,338.48 L167.11,338.60 L167.77,338.72 L168.43,338.85 L169.10,338.99 L169.76,339.12 L170.42,339.27 L171.09,339.41 L171.75,339.56 L172.42,339.70 L173.08,339.84 L173.74,339.97 L174.41,340.10 L175.07,340.22 L175.73,340.33 L176.40,340.43 L177.06,340.53 L177.73,340.62 L178.39,340.71 L179.05,340.80 L179.72,340.88 L180.38,340.96 L181.04,341.03 L181.71,341.11 L182.37,341.18 L183.04,341.24 L183.70,341.30 L184.36,341.36 L185.03,341.42 L185.69,341.47 L186.35,341.52 L187.02,341.56 L187.68,341.61 L188.35,341.65 L189.01,341.69 L189.67,341.72 L190.34,341.76 L191.00,341.79" fill="none" stroke="#55b46a" stroke-width="1.0" stroke-linejoin="round" opacity="1"/>
<path d="M77.50,341.90 L78.16,341.90 L78.83,341.90 L79.49,341.90 L80.15,341.90 L80.82,341.90 L81.48,341.90 L82.15,341.90 L82.81,341.90 L83.47,341.90 L84.14,341.90 L84.80,341.90 L85.46,341.90 L86.13,341.90 L86.79,341.90 L87.46,341.90 L88.12,341.90 L88.78,341.90 L89.45,341.90 L90.11,341.90 L90.77,341.90 L91.44,341.90 L92.10,341.90 L92.77,341.90 L93.43,341.90 L94.09,341.90 L94.76,341.90 L95.42,341.90 L96.08,341.90 L96.75,341.90 L97.41,341.90 L98.08,341.90 L98.74,341.90 L99.40,341.09 L100.07,340.08 L100.73,339.02 L101.39,337.88 L102.06,336.67 L102.72,335.36 L103.39,333.94 L104.05,332.31 L104.71,330.51 L105.38,328.58 L106.04,326.59 L106.70,324.58 L107.37,322.51 L108.03,320.28 L108.70,318.00 L109.36,315.77 L110.02,313.70 L110.69,311.80 L111.35,309.86 L112.01,307.97 L112.68,306.28 L113.34,304.92 L114.01,304.05 L114.67,303.43 L115.33,302.89 L116.00,302.48 L116.66,302.25 L117.32,302.25 L117.99,302.56 L118.65,303.09 L119.32,303.78 L119.98,304.54 L120.64,305.67 L121.31,307.31 L121.97,309.28 L122.63,311.39 L123.30,313.45 L123.96,315.26 L124.63,316.72 L125.29,318.07 L125.95,319.36 L126.62,320.58 L127.28,321.72 L127.94,322.76 L128.61,323.71 L129.27,324.57 L129.94,325.41 L130.60,326.21 L131.26,326.96 L131.93,327.66 L132.59,328.30 L133.25,328.88 L133.92,329.39 L134.58,329.82 L135.25,330.21 L135.91,330.57 L136.57,330.90 L137.24,331.21 L137.90,331.50 L138.56,331.77 L139.23,332.02 L139.89,332.27 L140.56,332.51 L141.22,332.75 L141.88,332.99 L142.55,333.22 L143.21,333.45 L143.87,333.67 L144.54,333.88 L145.20,334.08 L145.87,334.28 L146.53,334.48 L147.19,334.66 L147.86,334.84 L148.52,335.01 L149.18,335.18 L149.85,335.34 L150.51,335.50 L151.18,335.65 L151.84,335.79 L152.50,335.94 L153.17,336.08 L153.83,336.21 L154.49,336.35 L155.16,336.48 L155.82,336.61 L156.49,336.73 L157.15,336.86 L157.81,336.98 L158.48,337.11 L159.14,337.23 L159.80,337.36 L160.47,337.47 L161.13,337.59 L161.80,337.70 L162.46,337.81 L163.12,337.92 L163.79,338.03 L164.45,338.14 L165.11,338.25 L165.78,338.37 L166.44,338.48 L167.11,338.60 L167.77,338.72 L168.43,338.85 L169.10,338.99 L169.76,339.12 L170.42,339.27 L171.09,339.41 L171.75,339.56 L172.42,339.70 L173.08,339.84 L173.74,339.97 L174.41,340.10 L175.07,340.22 L175.73,340.33 L176.40,340.43 L177.06,340.53 L177.73,340.62 L178.39,340.71 L179.05,340.80 L179.72,340.88 L180.38,340.96 L181.04,341.03 L181.71,341.11 L182.37,341.18 L183.04,341.24 L183.70,341.30 L184.36,341.36 L185.03,341.42 L185.69,341.47 L186.35,341.52 L187.02,341.56 L187.68,341.61 L188.35,341.65 L189.01,341.69 L189.67,341.72 L190.34,341.76 L191.00,341.79" fill="none" stroke="#c94459" stroke-width="1.1" stroke-linejoin="round" opacity="0.75"/>
<line x1="77.50" y1="242.10" x2="77.50" y2="346.40" stroke="#0a0a0a" stroke-width="1.5"/>
<line x1="73.00" y1="341.90" x2="77.50" y2="341.90" stroke="#0a0a0a" stroke-width="1.5"/>
<text x="68.00" y="346.10" font-size="12" text-anchor="end" font-weight="normal" fill="#231f20" stroke="#231f20" stroke-width="0.12" >0</text>
<line x1="73.00" y1="322.82" x2="77.50" y2="322.82" stroke="#0a0a0a" stroke-width="1.5"/>
<text x="68.00" y="327.02" font-size="12" text-anchor="end" font-weight="normal" fill="#231f20" stroke="#231f20" stroke-width="0.12" >50</text>
<line x1="73.00" y1="303.74" x2="77.50" y2="303.74" stroke="#0a0a0a" stroke-width="1.5"/>
<text x="68.00" y="307.94" font-size="12" text-anchor="end" font-weight="normal" fill="#231f20" stroke="#231f20" stroke-width="0.12" >100</text>
<line x1="73.00" y1="284.66" x2="77.50" y2="284.66" stroke="#0a0a0a" stroke-width="1.5"/>
<text x="68.00" y="288.86" font-size="12" text-anchor="end" font-weight="normal" fill="#231f20" stroke="#231f20" stroke-width="0.12" >150</text>
<line x1="73.00" y1="265.58" x2="77.50" y2="265.58" stroke="#0a0a0a" stroke-width="1.5"/>
<text x="68.00" y="269.78" font-size="12" text-anchor="end" font-weight="normal" fill="#231f20" stroke="#231f20" stroke-width="0.12" >200</text>
<line x1="73.00" y1="246.50" x2="77.50" y2="246.50" stroke="#0a0a0a" stroke-width="1.5"/>
<text x="68.00" y="250.70" font-size="12" text-anchor="end" font-weight="normal" fill="#231f20" stroke="#231f20" stroke-width="0.12" >250</text>
<line x1="73.00" y1="341.90" x2="195.50" y2="341.90" stroke="#0a0a0a" stroke-width="1.5"/>
<line x1="77.50" y1="341.90" x2="77.50" y2="346.40" stroke="#0a0a0a" stroke-width="1.5"/>
<text x="77.50" y="361.60" font-size="12" text-anchor="middle" font-weight="normal" fill="#231f20" stroke="#231f20" stroke-width="0.12" >0</text>
<line x1="100.20" y1="341.90" x2="100.20" y2="346.40" stroke="#0a0a0a" stroke-width="1.5"/>
<text x="100.20" y="361.60" font-size="12" text-anchor="middle" font-weight="normal" fill="#231f20" stroke="#231f20" stroke-width="0.12" >20</text>
<line x1="122.90" y1="341.90" x2="122.90" y2="346.40" stroke="#0a0a0a" stroke-width="1.5"/>
<text x="122.90" y="361.60" font-size="12" text-anchor="middle" font-weight="normal" fill="#231f20" stroke="#231f20" stroke-width="0.12" >40</text>
<line x1="145.60" y1="341.90" x2="145.60" y2="346.40" stroke="#0a0a0a" stroke-width="1.5"/>
<text x="145.60" y="361.60" font-size="12" text-anchor="middle" font-weight="normal" fill="#231f20" stroke="#231f20" stroke-width="0.12" >60</text>
<line x1="168.30" y1="341.90" x2="168.30" y2="346.40" stroke="#0a0a0a" stroke-width="1.5"/>
<text x="168.30" y="361.60" font-size="12" text-anchor="middle" font-weight="normal" fill="#231f20" stroke="#231f20" stroke-width="0.12" >80</text>
<line x1="191.00" y1="341.90" x2="191.00" y2="346.40" stroke="#0a0a0a" stroke-width="1.5"/>
<text x="191.00" y="361.60" font-size="12" text-anchor="middle" font-weight="normal" fill="#231f20" stroke="#231f20" stroke-width="0.12" >100</text>
<text x="136.25" y="380.50" font-size="14" text-anchor="middle" font-weight="normal" fill="#231f20" stroke="#231f20" stroke-width="0.5" textLength="47.5" lengthAdjust="spacingAndGlyphs" >Time (min)</text>
<text x="39.20" y="292.30" font-size="14" text-anchor="middle" font-weight="normal" fill="#231f20" stroke="#231f20" stroke-width="0.5" textLength="66" lengthAdjust="spacingAndGlyphs" transform="rotate(-90 39.20 292.30)">Thrombin (nM)</text>
<text x="227.90" y="214.00" font-size="17.3" text-anchor="start" font-weight="bold" fill="#000" stroke="#000" stroke-width="0.45">D</text>
<text x="354.00" y="234.30" font-size="13.5" text-anchor="middle" font-weight="normal" fill="#231f20" stroke="#231f20" stroke-width="0.12" textLength="70.2" lengthAdjust="spacingAndGlyphs" >PRP: Rvv-X</text>
<path d="M295.00,341.90 L295.67,341.90 L296.33,341.90 L297.00,341.90 L297.67,341.90 L298.33,341.90 L299.00,341.90 L299.67,341.90 L300.33,341.90 L301.00,341.90 L301.67,341.90 L302.33,341.90 L303.00,341.90 L303.67,341.90 L304.33,341.90 L305.00,341.90 L305.67,341.90 L306.33,341.90 L307.00,341.90 L307.67,341.49 L308.33,340.83 L309.00,340.04 L309.67,339.16 L310.33,338.22 L311.00,337.26 L311.67,336.30 L312.33,335.29 L313.00,334.22 L313.67,333.09 L314.33,331.88 L315.00,330.58 L315.67,329.13 L316.33,327.47 L317.00,325.68 L317.67,323.79 L318.33,321.87 L319.00,319.98 L319.67,318.16 L320.33,316.46 L321.00,314.77 L321.67,313.07 L322.33,311.40 L323.00,309.78 L323.67,308.22 L324.33,306.77 L325.00,305.45 L325.67,304.22 L326.33,303.03 L327.00,301.88 L327.67,300.80 L328.33,299.80 L329.00,298.89 L329.67,298.10 L330.33,297.42 L331.00,296.78 L331.67,296.19 L332.33,295.67 L333.00,295.26 L333.67,294.99 L334.33,294.82 L335.00,294.69 L335.67,294.60 L336.33,294.59 L337.00,294.76 L337.67,295.11 L338.33,295.57 L339.00,296.11 L339.67,296.67 L340.33,297.40 L341.00,298.33 L341.67,299.41 L342.33,300.60 L343.00,301.87 L343.67,303.17 L344.33,304.47 L345.00,305.72 L345.67,306.90 L346.33,308.11 L347.00,309.37 L347.67,310.65 L348.33,311.95 L349.00,313.26 L349.67,314.55 L350.33,315.81 L351.00,317.03 L351.67,318.20 L352.33,319.31 L353.00,320.33 L353.67,321.28 L354.33,322.21 L355.00,323.11 L355.67,323.98 L356.33,324.83 L357.00,325.64 L357.67,326.43 L358.33,327.18 L359.00,327.89 L359.67,328.56 L360.33,329.19 L361.00,329.78 L361.67,330.34 L362.33,330.89 L363.00,331.41 L363.67,331.92 L364.33,332.41 L365.00,332.88 L365.67,333.33 L366.33,333.76 L367.00,334.18 L367.67,334.57 L368.33,334.94 L369.00,335.30 L369.67,335.63 L370.33,335.94 L371.00,336.25 L371.67,336.55 L372.33,336.84 L373.00,337.13 L373.67,337.40 L374.33,337.67 L375.00,337.92 L375.67,338.17 L376.33,338.40 L377.00,338.62 L377.67,338.83 L378.33,339.02 L379.00,339.21 L379.67,339.37 L380.33,339.53 L381.00,339.67 L381.67,339.80 L382.33,339.92 L383.00,340.04 L383.67,340.16 L384.33,340.27 L385.00,340.37 L385.67,340.47 L386.33,340.57 L387.00,340.66 L387.67,340.74 L388.33,340.82 L389.00,340.90 L389.67,340.97 L390.33,341.04 L391.00,341.10 L391.67,341.16 L392.33,341.21 L393.00,341.27 L393.67,341.32 L394.33,341.37 L395.00,341.42 L395.67,341.47 L396.33,341.51 L397.00,341.55 L397.67,341.59 L398.33,341.63 L399.00,341.67 L399.67,341.70 L400.33,341.73 L401.00,341.75 L401.67,341.77 L402.33,341.79 L403.00,341.81 L403.67,341.82 L404.33,341.84 L405.00,341.85 L405.67,341.87 L406.33,341.88 L407.00,341.89 L407.67,341.89 L408.33,341.90 L409.00,341.90" fill="none" stroke="#4aa6d6" stroke-width="1.0" stroke-linejoin="round" opacity="1"/>
<path d="M295.00,341.90 L295.67,341.90 L296.33,341.90 L297.00,341.90 L297.67,341.90 L298.33,341.90 L299.00,341.90 L299.67,341.90 L300.33,341.90 L301.00,341.90 L301.67,341.90 L302.33,341.90 L303.00,341.90 L303.67,341.90 L304.33,341.90 L305.00,341.90 L305.67,341.90 L306.33,341.90 L307.00,341.90 L307.67,341.90 L308.33,341.90 L309.00,341.90 L309.67,341.53 L310.33,340.92 L311.00,340.20 L311.67,339.40 L312.33,338.53 L313.00,337.64 L313.67,336.74 L314.33,335.82 L315.00,334.85 L315.67,333.82 L316.33,332.72 L317.00,331.54 L317.67,330.26 L318.33,328.79 L319.00,327.10 L319.67,325.28 L320.33,323.37 L321.00,321.44 L321.67,319.55 L322.33,317.75 L323.00,316.05 L323.67,314.31 L324.33,312.56 L325.00,310.84 L325.67,309.19 L326.33,307.67 L327.00,306.31 L327.67,305.17 L328.33,304.18 L329.00,303.27 L329.67,302.44 L330.33,301.67 L331.00,300.95 L331.67,300.27 L332.33,299.64 L333.00,299.02 L333.67,298.39 L334.33,297.79 L335.00,297.28 L335.67,296.92 L336.33,296.71 L337.00,296.55 L337.67,296.49 L338.33,296.61 L339.00,296.91 L339.67,297.34 L340.33,297.84 L341.00,298.35 L341.67,298.93 L342.33,299.63 L343.00,300.45 L343.67,301.36 L344.33,302.33 L345.00,303.35 L345.67,304.39 L346.33,305.42 L347.00,306.44 L347.67,307.46 L348.33,308.54 L349.00,309.67 L349.67,310.84 L350.33,312.02 L351.00,313.22 L351.67,314.41 L352.33,315.59 L353.00,316.75 L353.67,317.86 L354.33,318.93 L355.00,319.93 L355.67,320.87 L356.33,321.78 L357.00,322.68 L357.67,323.56 L358.33,324.42 L359.00,325.25 L359.67,326.06 L360.33,326.83 L361.00,327.57 L361.67,328.27 L362.33,328.93 L363.00,329.54 L363.67,330.11 L364.33,330.66 L365.00,331.20 L365.67,331.71 L366.33,332.21 L367.00,332.69 L367.67,333.14 L368.33,333.59 L369.00,334.01 L369.67,334.41 L370.33,334.79 L371.00,335.15 L371.67,335.49 L372.33,335.81 L373.00,336.12 L373.67,336.43 L374.33,336.72 L375.00,337.01 L375.67,337.29 L376.33,337.56 L377.00,337.81 L377.67,338.06 L378.33,338.30 L379.00,338.53 L379.67,338.74 L380.33,338.94 L381.00,339.13 L381.67,339.31 L382.33,339.47 L383.00,339.61 L383.67,339.74 L384.33,339.87 L385.00,339.99 L385.67,340.11 L386.33,340.22 L387.00,340.33 L387.67,340.43 L388.33,340.53 L389.00,340.62 L389.67,340.71 L390.33,340.79 L391.00,340.87 L391.67,340.94 L392.33,341.01 L393.00,341.07 L393.67,341.13 L394.33,341.19 L395.00,341.24 L395.67,341.29 L396.33,341.34 L397.00,341.39 L397.67,341.44 L398.33,341.48 L399.00,341.52 L399.67,341.56 L400.33,341.60 L401.00,341.64 L401.67,341.67 L402.33,341.70 L403.00,341.73 L403.67,341.76 L404.33,341.78 L405.00,341.80 L405.67,341.82 L406.33,341.84 L407.00,341.86 L407.67,341.88 L408.33,341.89 L409.00,341.90" fill="none" stroke="#22477a" stroke-width="1.0" stroke-linejoin="round" opacity="1"/>
<path d="M295.00,341.90 L295.67,341.90 L296.33,341.90 L297.00,341.90 L297.67,341.90 L298.33,341.90 L299.00,341.90 L299.67,341.90 L300.33,341.90 L301.00,341.90 L301.67,341.90 L302.33,341.90 L303.00,341.90 L303.67,340.91 L304.33,338.98 L305.00,336.24 L305.67,333.02 L306.33,329.60 L307.00,325.51 L307.67,320.84 L308.33,316.05 L309.00,311.53 L309.67,307.12 L310.33,302.70 L311.00,298.18 L311.67,293.46 L312.33,288.55 L313.00,283.60 L313.67,278.76 L314.33,273.76 L315.00,268.84 L315.67,265.05 L316.33,262.34 L317.00,260.44 L317.67,259.42 L318.33,258.78 L319.00,258.81 L319.67,259.31 L320.33,260.02 L321.00,261.25 L321.67,262.98 L322.33,265.11 L323.00,267.93 L323.67,271.30 L324.33,275.04 L325.00,279.49 L325.67,284.86 L326.33,290.33 L327.00,295.14 L327.67,299.66 L328.33,303.91 L329.00,307.62 L329.67,310.57 L330.33,313.19 L331.00,315.53 L331.67,317.60 L332.33,319.39 L333.00,320.93 L333.67,322.30 L334.33,323.55 L335.00,324.68 L335.67,325.69 L336.33,326.60 L337.00,327.39 L337.67,328.10 L338.33,328.74 L339.00,329.31 L339.67,329.82 L340.33,330.27 L341.00,330.69 L341.67,331.10 L342.33,331.48 L343.00,331.85 L343.67,332.20 L344.33,332.53 L345.00,332.85 L345.67,333.15 L346.33,333.43 L347.00,333.70 L347.67,333.95 L348.33,334.18 L349.00,334.41 L349.67,334.62 L350.33,334.83 L351.00,335.03 L351.67,335.22 L352.33,335.41 L353.00,335.58 L353.67,335.76 L354.33,335.92 L355.00,336.08 L355.67,336.24 L356.33,336.39 L357.00,336.54 L357.67,336.68 L358.33,336.82 L359.00,336.95 L359.67,337.09 L360.33,337.21 L361.00,337.34 L361.67,337.47 L362.33,337.59 L363.00,337.71 L363.67,337.83 L364.33,337.95 L365.00,338.06 L365.67,338.18 L366.33,338.29 L367.00,338.40 L367.67,338.50 L368.33,338.61 L369.00,338.71 L369.67,338.81 L370.33,338.90 L371.00,339.00 L371.67,339.09 L372.33,339.17 L373.00,339.26 L373.67,339.34 L374.33,339.42 L375.00,339.49 L375.67,339.56 L376.33,339.63 L377.00,339.69 L377.67,339.75 L378.33,339.81 L379.00,339.87 L379.67,339.93 L380.33,339.98 L381.00,340.03 L381.67,340.08 L382.33,340.13 L383.00,340.18 L383.67,340.22 L384.33,340.26 L385.00,340.30 L385.67,340.34 L386.33,340.38 L387.00,340.42 L387.67,340.45 L388.33,340.49 L389.00,340.52 L389.67,340.55 L390.33,340.58 L391.00,340.61 L391.67,340.64 L392.33,340.67 L393.00,340.70 L393.67,340.72 L394.33,340.75 L395.00,340.78 L395.67,340.80 L396.33,340.83 L397.00,340.86 L397.67,340.88 L398.33,340.91 L399.00,340.94 L399.67,340.97 L400.33,340.99 L401.00,341.02 L401.67,341.05 L402.33,341.07 L403.00,341.10 L403.67,341.13 L404.33,341.15 L405.00,341.18 L405.67,341.20 L406.33,341.23 L407.00,341.25 L407.67,341.28 L408.33,341.30 L409.00,341.33" fill="none" stroke="#55b46a" stroke-width="1.0" stroke-linejoin="round" opacity="1"/>
<path d="M295.00,341.90 L295.67,341.90 L296.33,341.90 L297.00,341.90 L297.67,341.90 L298.33,341.90 L299.00,341.90 L299.67,341.90 L300.33,341.90 L301.00,341.90 L301.67,341.90 L302.33,341.90 L303.00,341.70 L303.67,340.36 L304.33,338.12 L305.00,335.18 L305.67,331.86 L306.33,328.30 L307.00,323.96 L307.67,319.19 L308.33,314.46 L309.00,310.02 L309.67,305.62 L310.33,301.17 L311.00,296.59 L311.67,291.79 L312.33,286.86 L313.00,281.93 L313.67,277.11 L314.33,272.02 L315.00,267.36 L315.67,264.07 L316.33,261.61 L317.00,260.04 L317.67,258.96 L318.33,258.35 L319.00,258.49 L319.67,259.04 L320.33,259.80 L321.00,261.13 L321.67,262.93 L322.33,265.16 L323.00,268.09 L323.67,271.53 L324.33,275.33 L325.00,279.98 L325.67,285.43 L326.33,290.83 L327.00,295.53 L327.67,300.02 L328.33,304.19 L329.00,307.78 L329.67,310.68 L330.33,313.29 L331.00,315.64 L331.67,317.70 L332.33,319.48 L333.00,320.98 L333.67,322.33 L334.33,323.55 L335.00,324.65 L335.67,325.64 L336.33,326.53 L337.00,327.34 L337.67,328.09 L338.33,328.77 L339.00,329.37 L339.67,329.90 L340.33,330.35 L341.00,330.77 L341.67,331.18 L342.33,331.56 L343.00,331.92 L343.67,332.26 L344.33,332.58 L345.00,332.89 L345.67,333.17 L346.33,333.45 L347.00,333.71 L347.67,333.95 L348.33,334.18 L349.00,334.41 L349.67,334.62 L350.33,334.83 L351.00,335.03 L351.67,335.22 L352.33,335.40 L353.00,335.58 L353.67,335.75 L354.33,335.92 L355.00,336.08 L355.67,336.24 L356.33,336.39 L357.00,336.54 L357.67,336.68 L358.33,336.82 L359.00,336.95 L359.67,337.09 L360.33,337.21 L361.00,337.34 L361.67,337.47 L362.33,337.59 L363.00,337.71 L363.67,337.83 L364.33,337.95 L365.00,338.06 L365.67,338.18 L366.33,338.29 L367.00,338.40 L367.67,338.50 L368.33,338.61 L369.00,338.71 L369.67,338.81 L370.33,338.90 L371.00,339.00 L371.67,339.09 L372.33,339.17 L373.00,339.26 L373.67,339.34 L374.33,339.42 L375.00,339.49 L375.67,339.56 L376.33,339.63 L377.00,339.69 L377.67,339.75 L378.33,339.81 L379.00,339.87 L379.67,339.93 L380.33,339.98 L381.00,340.03 L381.67,340.08 L382.33,340.13 L383.00,340.18 L383.67,340.22 L384.33,340.26 L385.00,340.30 L385.67,340.34 L386.33,340.38 L387.00,340.42 L387.67,340.45 L388.33,340.49 L389.00,340.52 L389.67,340.55 L390.33,340.58 L391.00,340.61 L391.67,340.64 L392.33,340.67 L393.00,340.70 L393.67,340.72 L394.33,340.75 L395.00,340.78 L395.67,340.80 L396.33,340.83 L397.00,340.86 L397.67,340.88 L398.33,340.91 L399.00,340.94 L399.67,340.97 L400.33,340.99 L401.00,341.02 L401.67,341.05 L402.33,341.07 L403.00,341.10 L403.67,341.13 L404.33,341.15 L405.00,341.18 L405.67,341.20 L406.33,341.23 L407.00,341.25 L407.67,341.28 L408.33,341.30 L409.00,341.33" fill="none" stroke="#c94459" stroke-width="1.1" stroke-linejoin="round" opacity="0.75"/>
<line x1="295.00" y1="242.10" x2="295.00" y2="346.40" stroke="#0a0a0a" stroke-width="1.5"/>
<line x1="290.50" y1="341.90" x2="295.00" y2="341.90" stroke="#0a0a0a" stroke-width="1.5"/>
<text x="285.50" y="346.10" font-size="12" text-anchor="end" font-weight="normal" fill="#231f20" stroke="#231f20" stroke-width="0.12" >0</text>
<line x1="290.50" y1="322.82" x2="295.00" y2="322.82" stroke="#0a0a0a" stroke-width="1.5"/>
<text x="285.50" y="327.02" font-size="12" text-anchor="end" font-weight="normal" fill="#231f20" stroke="#231f20" stroke-width="0.12" >50</text>
<line x1="290.50" y1="303.74" x2="295.00" y2="303.74" stroke="#0a0a0a" stroke-width="1.5"/>
<text x="285.50" y="307.94" font-size="12" text-anchor="end" font-weight="normal" fill="#231f20" stroke="#231f20" stroke-width="0.12" >100</text>
<line x1="290.50" y1="284.66" x2="295.00" y2="284.66" stroke="#0a0a0a" stroke-width="1.5"/>
<text x="285.50" y="288.86" font-size="12" text-anchor="end" font-weight="normal" fill="#231f20" stroke="#231f20" stroke-width="0.12" >150</text>
<line x1="290.50" y1="265.58" x2="295.00" y2="265.58" stroke="#0a0a0a" stroke-width="1.5"/>
<text x="285.50" y="269.78" font-size="12" text-anchor="end" font-weight="normal" fill="#231f20" stroke="#231f20" stroke-width="0.12" >200</text>
<line x1="290.50" y1="246.50" x2="295.00" y2="246.50" stroke="#0a0a0a" stroke-width="1.5"/>
<text x="285.50" y="250.70" font-size="12" text-anchor="end" font-weight="normal" fill="#231f20" stroke="#231f20" stroke-width="0.12" >250</text>
<line x1="290.50" y1="341.90" x2="413.50" y2="341.90" stroke="#0a0a0a" stroke-width="1.5"/>
<line x1="295.00" y1="341.90" x2="295.00" y2="346.40" stroke="#0a0a0a" stroke-width="1.5"/>
<text x="295.00" y="361.60" font-size="12" text-anchor="middle" font-weight="normal" fill="#231f20" stroke="#231f20" stroke-width="0.12" >0</text>
<line x1="317.80" y1="341.90" x2="317.80" y2="346.40" stroke="#0a0a0a" stroke-width="1.5"/>
<text x="317.80" y="361.60" font-size="12" text-anchor="middle" font-weight="normal" fill="#231f20" stroke="#231f20" stroke-width="0.12" >10</text>
<line x1="340.60" y1="341.90" x2="340.60" y2="346.40" stroke="#0a0a0a" stroke-width="1.5"/>
<text x="340.60" y="361.60" font-size="12" text-anchor="middle" font-weight="normal" fill="#231f20" stroke="#231f20" stroke-width="0.12" >20</text>
<line x1="363.40" y1="341.90" x2="363.40" y2="346.40" stroke="#0a0a0a" stroke-width="1.5"/>
<text x="363.40" y="361.60" font-size="12" text-anchor="middle" font-weight="normal" fill="#231f20" stroke="#231f20" stroke-width="0.12" >30</text>
<line x1="386.20" y1="341.90" x2="386.20" y2="346.40" stroke="#0a0a0a" stroke-width="1.5"/>
<text x="386.20" y="361.60" font-size="12" text-anchor="middle" font-weight="normal" fill="#231f20" stroke="#231f20" stroke-width="0.12" >40</text>
<line x1="409.00" y1="341.90" x2="409.00" y2="346.40" stroke="#0a0a0a" stroke-width="1.5"/>
<text x="409.00" y="361.60" font-size="12" text-anchor="middle" font-weight="normal" fill="#231f20" stroke="#231f20" stroke-width="0.12" >50</text>
<text x="354.00" y="380.50" font-size="14" text-anchor="middle" font-weight="normal" fill="#231f20" stroke="#231f20" stroke-width="0.5" textLength="47.5" lengthAdjust="spacingAndGlyphs" >Time (min)</text>
<text x="256.70" y="292.30" font-size="14" text-anchor="middle" font-weight="normal" fill="#231f20" stroke="#231f20" stroke-width="0.5" textLength="66" lengthAdjust="spacingAndGlyphs" transform="rotate(-90 256.70 292.30)">Thrombin (nM)</text>
<line x1="435.00" y1="251.90" x2="448.00" y2="251.90" stroke="#4aa6d6" stroke-width="1.4"/>
<text x="452.70" y="255.90" font-size="10.9" text-anchor="start" font-weight="normal" fill="#231f20" stroke="#231f20" stroke-width="0.12" >Control</text>
<line x1="435.00" y1="267.45" x2="448.00" y2="267.45" stroke="#22477a" stroke-width="1.4"/>
<text x="452.70" y="271.45" font-size="10.9" text-anchor="start" font-weight="normal" fill="#231f20" stroke="#231f20" stroke-width="0.12" textLength="27.3" lengthAdjust="spacingAndGlyphs" >FVIIai</text>
<line x1="435.00" y1="283.00" x2="448.00" y2="283.00" stroke="#c94459" stroke-width="1.4"/>
<text x="452.70" y="287.00" font-size="10.9" text-anchor="start" font-weight="normal" fill="#231f20" stroke="#231f20" stroke-width="0.12" >CRP</text>
<line x1="435.00" y1="298.55" x2="448.00" y2="298.55" stroke="#55b46a" stroke-width="1.4"/>
<text x="452.70" y="302.55" font-size="10.9" text-anchor="start" font-weight="normal" fill="#231f20" stroke="#231f20" stroke-width="0.12" >CRP+FVIIai</text>
<text x="17.50" y="403.70" font-size="17.3" text-anchor="start" font-weight="bold" fill="#000" stroke="#000" stroke-width="0.45">E</text>
<rect x="81.20" y="442.09" width="7.2" height="72.01" fill="#e3157c"/>
<line x1="84.80" y1="437.34" x2="84.80" y2="442.09" stroke="#e3157c" stroke-width="1.0"/>
<line x1="83.00" y1="437.34" x2="86.60" y2="437.34" stroke="#e3157c" stroke-width="1.0"/>
<rect x="96.80" y="446.27" width="7.2" height="67.83" fill="#e3157c"/>
<line x1="100.40" y1="429.36" x2="100.40" y2="446.27" stroke="#e3157c" stroke-width="1.0"/>
<line x1="98.60" y1="429.36" x2="102.20" y2="429.36" stroke="#e3157c" stroke-width="1.0"/>
<rect x="115.20" y="503.08" width="7.2" height="11.02" fill="#8c86c5"/>
<line x1="118.80" y1="502.70" x2="118.80" y2="503.08" stroke="#8c86c5" stroke-width="1.0"/>
<line x1="117.00" y1="502.70" x2="120.60" y2="502.70" stroke="#8c86c5" stroke-width="1.0"/>
<rect x="130.80" y="502.89" width="7.2" height="11.21" fill="#8c86c5"/>
<line x1="134.40" y1="502.32" x2="134.40" y2="502.89" stroke="#8c86c5" stroke-width="1.0"/>
<line x1="132.60" y1="502.32" x2="136.20" y2="502.32" stroke="#8c86c5" stroke-width="1.0"/>
<rect x="149.20" y="436.77" width="7.2" height="77.33" fill="#a2bb82"/>
<line x1="152.80" y1="428.60" x2="152.80" y2="436.77" stroke="#a2bb82" stroke-width="1.0"/>
<line x1="151.00" y1="428.60" x2="154.60" y2="428.60" stroke="#a2bb82" stroke-width="1.0"/>
<rect x="164.60" y="436.77" width="7.2" height="77.33" fill="#a2bb82"/>
<line x1="168.20" y1="428.60" x2="168.20" y2="436.77" stroke="#a2bb82" stroke-width="1.0"/>
<line x1="166.40" y1="428.60" x2="170.00" y2="428.60" stroke="#a2bb82" stroke-width="1.0"/>
<rect x="183.10" y="501.18" width="7.2" height="12.92" fill="#f28d10"/>
<line x1="186.70" y1="500.80" x2="186.70" y2="501.18" stroke="#f28d10" stroke-width="1.0"/>
<line x1="184.90" y1="500.80" x2="188.50" y2="500.80" stroke="#f28d10" stroke-width="1.0"/>
<rect x="198.90" y="498.71" width="7.2" height="15.39" fill="#f28d10"/>
<line x1="202.50" y1="497.38" x2="202.50" y2="498.71" stroke="#f28d10" stroke-width="1.0"/>
<line x1="200.70" y1="497.38" x2="204.30" y2="497.38" stroke="#f28d10" stroke-width="1.0"/>
<line x1="84.40" y1="425.60" x2="100.30" y2="425.60" stroke="#0a0a0a" stroke-width="1.2"/>
<text x="92.35" y="423.70" font-size="11.4" text-anchor="middle" font-weight="normal" fill="#231f20" stroke="#231f20" stroke-width="0.12" >ns</text>
<line x1="118.50" y1="495.20" x2="134.20" y2="495.20" stroke="#0a0a0a" stroke-width="1.2"/>
<text x="126.35" y="493.30" font-size="11.4" text-anchor="middle" font-weight="normal" fill="#231f20" stroke="#231f20" stroke-width="0.12" >ns</text>
<line x1="153.20" y1="423.80" x2="168.00" y2="423.80" stroke="#0a0a0a" stroke-width="1.2"/>
<text x="160.60" y="421.90" font-size="11.4" text-anchor="middle" font-weight="normal" fill="#231f20" stroke="#231f20" stroke-width="0.12" >ns</text>
<line x1="187.00" y1="489.70" x2="202.40" y2="489.70" stroke="#0a0a0a" stroke-width="1.2"/>
<text x="194.70" y="487.80" font-size="11.4" text-anchor="middle" font-weight="normal" fill="#231f20" stroke="#231f20" stroke-width="0.12" >ns</text>
<line x1="77.40" y1="415.00" x2="77.40" y2="514.10" stroke="#0a0a0a" stroke-width="1.5"/>
<line x1="72.90" y1="514.10" x2="77.40" y2="514.10" stroke="#0a0a0a" stroke-width="1.5"/>
<text x="68.10" y="518.40" font-size="12.3" text-anchor="end" font-weight="normal" fill="#231f20" stroke="#231f20" stroke-width="0.12" >0</text>
<line x1="72.90" y1="495.10" x2="77.40" y2="495.10" stroke="#0a0a0a" stroke-width="1.5"/>
<text x="68.10" y="499.40" font-size="12.3" text-anchor="end" font-weight="normal" fill="#231f20" stroke="#231f20" stroke-width="0.12" >10</text>
<line x1="72.90" y1="476.10" x2="77.40" y2="476.10" stroke="#0a0a0a" stroke-width="1.5"/>
<text x="68.10" y="480.40" font-size="12.3" text-anchor="end" font-weight="normal" fill="#231f20" stroke="#231f20" stroke-width="0.12" >20</text>
<line x1="72.90" y1="457.10" x2="77.40" y2="457.10" stroke="#0a0a0a" stroke-width="1.5"/>
<text x="68.10" y="461.40" font-size="12.3" text-anchor="end" font-weight="normal" fill="#231f20" stroke="#231f20" stroke-width="0.12" >30</text>
<line x1="72.90" y1="438.10" x2="77.40" y2="438.10" stroke="#0a0a0a" stroke-width="1.5"/>
<text x="68.10" y="442.40" font-size="12.3" text-anchor="end" font-weight="normal" fill="#231f20" stroke="#231f20" stroke-width="0.12" >40</text>
<line x1="72.90" y1="419.10" x2="77.40" y2="419.10" stroke="#0a0a0a" stroke-width="1.5"/>
<text x="68.10" y="423.40" font-size="12.3" text-anchor="end" font-weight="normal" fill="#231f20" stroke="#231f20" stroke-width="0.12" >50</text>
<line x1="73.10" y1="514.10" x2="208.30" y2="514.10" stroke="#0a0a0a" stroke-width="1.5"/>
<line x1="84.80" y1="514.10" x2="84.80" y2="518.60" stroke="#0a0a0a" stroke-width="1.5"/>
<line x1="100.40" y1="514.10" x2="100.40" y2="518.60" stroke="#0a0a0a" stroke-width="1.5"/>
<line x1="118.80" y1="514.10" x2="118.80" y2="518.60" stroke="#0a0a0a" stroke-width="1.5"/>
<line x1="134.40" y1="514.10" x2="134.40" y2="518.60" stroke="#0a0a0a" stroke-width="1.5"/>
<line x1="152.80" y1="514.10" x2="152.80" y2="518.60" stroke="#0a0a0a" stroke-width="1.5"/>
<line x1="168.20" y1="514.10" x2="168.20" y2="518.60" stroke="#0a0a0a" stroke-width="1.5"/>
<line x1="186.70" y1="514.10" x2="186.70" y2="518.60" stroke="#0a0a0a" stroke-width="1.5"/>
<line x1="202.50" y1="514.10" x2="202.50" y2="518.60" stroke="#0a0a0a" stroke-width="1.5"/>
<text x="89.30" y="527.90" font-size="11.6" text-anchor="end" font-weight="normal" fill="#231f20" stroke="#231f20" stroke-width="0.12" transform="rotate(-45 89.30 527.90)">Control</text>
<text x="104.90" y="527.90" font-size="11.6" text-anchor="end" font-weight="normal" fill="#231f20" stroke="#231f20" stroke-width="0.12" textLength="29.0" lengthAdjust="spacingAndGlyphs" transform="rotate(-45 104.90 527.90)">FVIIai</text>
<text x="123.30" y="527.90" font-size="11.6" text-anchor="end" font-weight="normal" fill="#231f20" stroke="#231f20" stroke-width="0.12" transform="rotate(-45 123.30 527.90)">Control</text>
<text x="138.90" y="527.90" font-size="11.6" text-anchor="end" font-weight="normal" fill="#231f20" stroke="#231f20" stroke-width="0.12" textLength="29.0" lengthAdjust="spacingAndGlyphs" transform="rotate(-45 138.90 527.90)">FVIIai</text>
<text x="157.30" y="527.90" font-size="11.6" text-anchor="end" font-weight="normal" fill="#231f20" stroke="#231f20" stroke-width="0.12" transform="rotate(-45 157.30 527.90)">Control</text>
<text x="172.70" y="527.90" font-size="11.6" text-anchor="end" font-weight="normal" fill="#231f20" stroke="#231f20" stroke-width="0.12" textLength="29.0" lengthAdjust="spacingAndGlyphs" transform="rotate(-45 172.70 527.90)">FVIIai</text>
<text x="191.20" y="527.90" font-size="11.6" text-anchor="end" font-weight="normal" fill="#231f20" stroke="#231f20" stroke-width="0.12" transform="rotate(-45 191.20 527.90)">Control</text>
<text x="207.00" y="527.90" font-size="11.6" text-anchor="end" font-weight="normal" fill="#231f20" stroke="#231f20" stroke-width="0.12" textLength="29.0" lengthAdjust="spacingAndGlyphs" transform="rotate(-45 207.00 527.90)">FVIIai</text>
<text x="45.00" y="465.10" font-size="14" text-anchor="middle" font-weight="normal" fill="#231f20" stroke="#231f20" stroke-width="0.45" textLength="62" lengthAdjust="spacingAndGlyphs" transform="rotate(-90 45.00 465.10)">Lagtime (min)</text>
<text x="234.80" y="404.20" font-size="17.3" text-anchor="start" font-weight="bold" fill="#000" stroke="#000" stroke-width="0.45">F</text>
<rect x="298.60" y="488.37" width="7.2" height="25.73" fill="#e3157c"/>
<line x1="302.20" y1="477.39" x2="302.20" y2="488.37" stroke="#e3157c" stroke-width="1.0"/>
<line x1="300.40" y1="477.39" x2="304.00" y2="477.39" stroke="#e3157c" stroke-width="1.0"/>
<rect x="314.30" y="483.47" width="7.2" height="30.63" fill="#e3157c"/>
<line x1="317.90" y1="465.46" x2="317.90" y2="483.47" stroke="#e3157c" stroke-width="1.0"/>
<line x1="316.10" y1="465.46" x2="319.70" y2="465.46" stroke="#e3157c" stroke-width="1.0"/>
<rect x="332.80" y="448.55" width="7.2" height="65.55" fill="#8c86c5"/>
<line x1="336.40" y1="440.76" x2="336.40" y2="448.55" stroke="#8c86c5" stroke-width="1.0"/>
<line x1="334.60" y1="440.76" x2="338.20" y2="440.76" stroke="#8c86c5" stroke-width="1.0"/>
<rect x="348.20" y="450.45" width="7.2" height="63.65" fill="#8c86c5"/>
<line x1="351.80" y1="447.60" x2="351.80" y2="450.45" stroke="#8c86c5" stroke-width="1.0"/>
<line x1="350.00" y1="447.60" x2="353.60" y2="447.60" stroke="#8c86c5" stroke-width="1.0"/>
<rect x="366.40" y="512.77" width="7.2" height="1.33" fill="#a2bb82"/>
<line x1="370.00" y1="508.40" x2="370.00" y2="512.77" stroke="#a2bb82" stroke-width="1.0"/>
<line x1="368.20" y1="508.40" x2="371.80" y2="508.40" stroke="#a2bb82" stroke-width="1.0"/>
<rect x="381.90" y="513.53" width="7.2" height="0.57" fill="#a2bb82"/>
<line x1="385.50" y1="511.44" x2="385.50" y2="513.53" stroke="#a2bb82" stroke-width="1.0"/>
<line x1="383.70" y1="511.44" x2="387.30" y2="511.44" stroke="#a2bb82" stroke-width="1.0"/>
<rect x="400.50" y="466.98" width="7.2" height="47.12" fill="#f28d10"/>
<line x1="404.10" y1="466.60" x2="404.10" y2="466.98" stroke="#f28d10" stroke-width="1.0"/>
<line x1="402.30" y1="466.60" x2="405.90" y2="466.60" stroke="#f28d10" stroke-width="1.0"/>
<rect x="416.40" y="468.12" width="7.2" height="45.98" fill="#f28d10"/>
<line x1="420.00" y1="463.56" x2="420.00" y2="468.12" stroke="#f28d10" stroke-width="1.0"/>
<line x1="418.20" y1="463.56" x2="421.80" y2="463.56" stroke="#f28d10" stroke-width="1.0"/>
<line x1="302.30" y1="460.40" x2="317.90" y2="460.40" stroke="#0a0a0a" stroke-width="1.2"/>
<text x="310.10" y="458.50" font-size="11.4" text-anchor="middle" font-weight="normal" fill="#231f20" stroke="#231f20" stroke-width="0.12" >ns</text>
<line x1="336.50" y1="432.80" x2="351.70" y2="432.80" stroke="#0a0a0a" stroke-width="1.2"/>
<text x="344.10" y="430.90" font-size="11.4" text-anchor="middle" font-weight="normal" fill="#231f20" stroke="#231f20" stroke-width="0.12" >ns</text>
<line x1="370.80" y1="502.00" x2="385.60" y2="502.00" stroke="#0a0a0a" stroke-width="1.2"/>
<text x="378.20" y="500.10" font-size="11.4" text-anchor="middle" font-weight="normal" fill="#231f20" stroke="#231f20" stroke-width="0.12" >ns</text>
<line x1="404.20" y1="458.20" x2="419.40" y2="458.20" stroke="#0a0a0a" stroke-width="1.2"/>
<text x="411.80" y="456.30" font-size="11.4" text-anchor="middle" font-weight="normal" fill="#231f20" stroke="#231f20" stroke-width="0.12" >ns</text>
<line x1="294.90" y1="415.00" x2="294.90" y2="514.10" stroke="#0a0a0a" stroke-width="1.5"/>
<line x1="290.40" y1="514.10" x2="294.90" y2="514.10" stroke="#0a0a0a" stroke-width="1.5"/>
<text x="285.60" y="518.40" font-size="12.3" text-anchor="end" font-weight="normal" fill="#231f20" stroke="#231f20" stroke-width="0.12" >0</text>
<line x1="290.40" y1="495.10" x2="294.90" y2="495.10" stroke="#0a0a0a" stroke-width="1.5"/>
<text x="285.60" y="499.40" font-size="12.3" text-anchor="end" font-weight="normal" fill="#231f20" stroke="#231f20" stroke-width="0.12" >50</text>
<line x1="290.40" y1="476.10" x2="294.90" y2="476.10" stroke="#0a0a0a" stroke-width="1.5"/>
<text x="285.60" y="480.40" font-size="12.3" text-anchor="end" font-weight="normal" fill="#231f20" stroke="#231f20" stroke-width="0.12" >100</text>
<line x1="290.40" y1="457.10" x2="294.90" y2="457.10" stroke="#0a0a0a" stroke-width="1.5"/>
<text x="285.60" y="461.40" font-size="12.3" text-anchor="end" font-weight="normal" fill="#231f20" stroke="#231f20" stroke-width="0.12" >150</text>
<line x1="290.40" y1="438.10" x2="294.90" y2="438.10" stroke="#0a0a0a" stroke-width="1.5"/>
<text x="285.60" y="442.40" font-size="12.3" text-anchor="end" font-weight="normal" fill="#231f20" stroke="#231f20" stroke-width="0.12" >200</text>
<line x1="290.40" y1="419.10" x2="294.90" y2="419.10" stroke="#0a0a0a" stroke-width="1.5"/>
<text x="285.60" y="423.40" font-size="12.3" text-anchor="end" font-weight="normal" fill="#231f20" stroke="#231f20" stroke-width="0.12" >250</text>
<line x1="290.60" y1="514.10" x2="425.80" y2="514.10" stroke="#0a0a0a" stroke-width="1.5"/>
<line x1="302.20" y1="514.10" x2="302.20" y2="518.60" stroke="#0a0a0a" stroke-width="1.5"/>
<line x1="317.90" y1="514.10" x2="317.90" y2="518.60" stroke="#0a0a0a" stroke-width="1.5"/>
<line x1="336.40" y1="514.10" x2="336.40" y2="518.60" stroke="#0a0a0a" stroke-width="1.5"/>
<line x1="351.80" y1="514.10" x2="351.80" y2="518.60" stroke="#0a0a0a" stroke-width="1.5"/>
<line x1="370.00" y1="514.10" x2="370.00" y2="518.60" stroke="#0a0a0a" stroke-width="1.5"/>
<line x1="385.50" y1="514.10" x2="385.50" y2="518.60" stroke="#0a0a0a" stroke-width="1.5"/>
<line x1="404.10" y1="514.10" x2="404.10" y2="518.60" stroke="#0a0a0a" stroke-width="1.5"/>
<line x1="420.00" y1="514.10" x2="420.00" y2="518.60" stroke="#0a0a0a" stroke-width="1.5"/>
<text x="306.70" y="527.90" font-size="11.6" text-anchor="end" font-weight="normal" fill="#231f20" stroke="#231f20" stroke-width="0.12" transform="rotate(-45 306.70 527.90)">Control</text>
<text x="322.40" y="527.90" font-size="11.6" text-anchor="end" font-weight="normal" fill="#231f20" stroke="#231f20" stroke-width="0.12" textLength="29.0" lengthAdjust="spacingAndGlyphs" transform="rotate(-45 322.40 527.90)">FVIIai</text>
<text x="340.90" y="527.90" font-size="11.6" text-anchor="end" font-weight="normal" fill="#231f20" stroke="#231f20" stroke-width="0.12" transform="rotate(-45 340.90 527.90)">Control</text>
<text x="356.30" y="527.90" font-size="11.6" text-anchor="end" font-weight="normal" fill="#231f20" stroke="#231f20" stroke-width="0.12" textLength="29.0" lengthAdjust="spacingAndGlyphs" transform="rotate(-45 356.30 527.90)">FVIIai</text>
<text x="374.50" y="527.90" font-size="11.6" text-anchor="end" font-weight="normal" fill="#231f20" stroke="#231f20" stroke-width="0.12" transform="rotate(-45 374.50 527.90)">Control</text>
<text x="390.00" y="527.90" font-size="11.6" text-anchor="end" font-weight="normal" fill="#231f20" stroke="#231f20" stroke-width="0.12" textLength="29.0" lengthAdjust="spacingAndGlyphs" transform="rotate(-45 390.00 527.90)">FVIIai</text>
<text x="408.60" y="527.90" font-size="11.6" text-anchor="end" font-weight="normal" fill="#231f20" stroke="#231f20" stroke-width="0.12" transform="rotate(-45 408.60 527.90)">Control</text>
<text x="424.50" y="527.90" font-size="11.6" text-anchor="end" font-weight="normal" fill="#231f20" stroke="#231f20" stroke-width="0.12" textLength="29.0" lengthAdjust="spacingAndGlyphs" transform="rotate(-45 424.50 527.90)">FVIIai</text>
<text x="257.80" y="465.10" font-size="14" text-anchor="middle" font-weight="normal" fill="#231f20" stroke="#231f20" stroke-width="0.45" textLength="45.7" lengthAdjust="spacingAndGlyphs" transform="rotate(-90 257.80 465.10)">Peak (nM)</text>
<rect x="435.5" y="435.90" width="12.3" height="5.8" fill="#e3157c"/>
<text x="452.80" y="442.60" font-size="10.9" text-anchor="start" font-weight="normal" fill="#231f20" stroke="#231f20" stroke-width="0.12" textLength="48.4" lengthAdjust="spacingAndGlyphs" >WB no TF</text>
<rect x="435.5" y="451.50" width="12.3" height="5.8" fill="#8c86c5"/>
<text x="452.80" y="458.20" font-size="10.9" text-anchor="start" font-weight="normal" fill="#231f20" stroke="#231f20" stroke-width="0.12" textLength="47.2" lengthAdjust="spacingAndGlyphs" >WB Rvv-X</text>
<rect x="435.5" y="467.10" width="12.3" height="5.8" fill="#a2bb82"/>
<text x="452.80" y="473.80" font-size="10.9" text-anchor="start" font-weight="normal" fill="#231f20" stroke="#231f20" stroke-width="0.12" textLength="51.8" lengthAdjust="spacingAndGlyphs" >PRP no TF</text>
<rect x="435.5" y="482.70" width="12.3" height="5.8" fill="#f28d10"/>
<text x="452.80" y="489.40" font-size="10.9" text-anchor="start" font-weight="normal" fill="#231f20" stroke="#231f20" stroke-width="0.12" textLength="50.7" lengthAdjust="spacingAndGlyphs" >PRP Rvv-X</text>
<rect x="0.5" y="0.5" width="519" height="566" fill="none" stroke="#222" stroke-width="1.2"/>
</svg>
</body></html>
